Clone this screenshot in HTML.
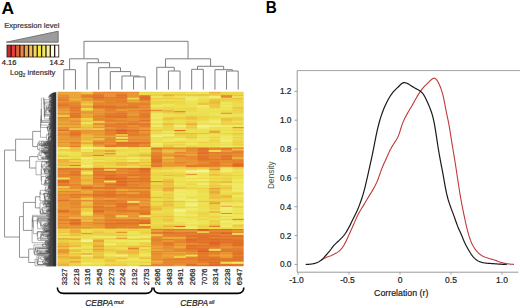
<!DOCTYPE html>
<html><head><meta charset="utf-8"><style>
html,body{margin:0;padding:0;background:#fff;}
svg{display:block;font-family:"Liberation Sans", sans-serif;}
</style></head><body>
<svg width="520" height="308" viewBox="0 0 520 308">
<rect width="520" height="308" fill="#fff"/>
<text x="1.6" y="14.3" font-size="17.4" font-weight="bold" fill="#000">A</text>
<text transform="translate(265.7,13.0) scale(0.9,1)" font-size="17" font-weight="bold" fill="#000">B</text>
<text x="4.2" y="27.5" font-size="7.6" fill="#333" stroke="#333" stroke-width="0.2">Expression level</text>
<polygon points="6.3,42.2 58.2,42.2 58.2,31.2" fill="#9c9c9c" stroke="#5e5e5e" stroke-width="0.8"/>
<rect x="6.6" y="44.7" width="52.6" height="12.7" fill="#2a1a10"/>
<rect x="7.45" y="45.5" width="3.05" height="11.1" fill="#c82830"/>
<rect x="11.80" y="45.5" width="3.05" height="11.1" fill="#e84040"/>
<rect x="16.15" y="45.5" width="3.05" height="11.1" fill="#e06438"/>
<rect x="20.50" y="45.5" width="3.05" height="11.1" fill="#ec8448"/>
<rect x="24.85" y="45.5" width="3.05" height="11.1" fill="#f0a850"/>
<rect x="29.20" y="45.5" width="3.05" height="11.1" fill="#f4c050"/>
<rect x="33.55" y="45.5" width="3.05" height="11.1" fill="#f4d860"/>
<rect x="37.90" y="45.5" width="3.05" height="11.1" fill="#f8e840"/>
<rect x="42.25" y="45.5" width="3.05" height="11.1" fill="#f0ec60"/>
<rect x="46.60" y="45.5" width="3.05" height="11.1" fill="#f4f0a0"/>
<rect x="50.95" y="45.5" width="3.05" height="11.1" fill="#fafae8"/>
<rect x="55.30" y="45.5" width="3.05" height="11.1" fill="#ffffff"/>
<text x="1.8" y="65.2" font-size="7.5" fill="#222" stroke="#222" stroke-width="0.2">4.16</text>
<text x="49.6" y="65.2" font-size="7.5" fill="#222" stroke="#222" stroke-width="0.2">14.2</text>
<text x="10.1" y="74.9" font-size="7.6" fill="#333" stroke="#333" stroke-width="0.2">Log<tspan font-size="4.6" dy="1.8">2</tspan><tspan dy="-1.8"> intensity</tspan></text>
<g><path fill="#d55122" d="M197.10,250.21h12.12v1.95h-12.12z"/><path fill="#d75723" d="M197.10,228.41h12.12v1.95h-12.12z"/><path fill="#d85a24" d="M115.72,129.59h12.12v1.95h-12.12z"/><path fill="#db5f25" d="M92.47,96.16h12.12v1.95h-12.12zM115.72,177.55h12.12v1.95h-12.12zM197.10,232.77h12.12v1.95h-12.12z"/><path fill="#dc6225" d="M138.97,96.16h12.12v1.95h-12.12zM220.35,112.15h12.12v1.95h-12.12zM115.72,132.49h12.12v1.95h-12.12zM138.97,168.83h12.12v1.95h-12.12zM104.10,177.55h12.12v1.95h-12.12zM57.60,180.45h12.12v1.95h-12.12zM208.72,241.49h12.12v1.95h-12.12zM197.10,258.93h12.12v1.95h-12.12z"/><path fill="#dd6526" d="M231.97,164.47h11.62v1.95h-11.62zM115.72,180.45h12.12v1.95h-12.12zM115.72,205.16h12.12v1.95h-12.12zM138.97,222.60h12.12v1.95h-12.12zM220.35,228.41h12.12v1.95h-12.12zM220.35,232.77h12.12v1.95h-12.12zM208.72,242.95h12.12v1.95h-12.12zM231.97,244.40h11.62v1.95h-11.62zM208.72,261.84h12.12v1.95h-12.12zM197.10,264.75h12.12v1.45h-12.12z"/><path fill="#de6826" d="M80.85,96.16h12.12v1.95h-12.12zM115.72,96.16h12.12v1.95h-12.12zM127.35,106.33h12.12v1.95h-12.12zM138.97,119.41h12.12v1.95h-12.12zM104.10,170.28h12.12v1.95h-12.12zM104.10,174.64h12.12v1.95h-12.12zM69.22,222.60h12.12v1.95h-12.12zM173.85,225.51h12.12v1.95h-12.12zM197.10,229.87h12.12v1.95h-12.12zM231.97,235.68h11.62v1.95h-11.62zM208.72,238.59h12.12v1.95h-12.12zM208.72,264.75h12.12v1.45h-12.12z"/><path fill="#df6a26" d="M115.72,112.15h12.12v1.95h-12.12zM104.10,115.05h12.12v1.95h-12.12zM115.72,141.21h12.12v1.95h-12.12zM150.60,147.03h12.12v1.95h-12.12zM197.10,152.84h12.12v1.95h-12.12zM92.47,154.29h12.12v1.95h-12.12zM220.35,155.75h12.12v1.95h-12.12zM231.97,163.01h11.62v1.95h-11.62zM138.97,167.37h12.12v1.95h-12.12zM80.85,186.27h12.12v1.95h-12.12zM138.97,219.69h12.12v1.95h-12.12zM185.47,238.59h12.12v1.95h-12.12zM185.47,247.31h12.12v1.95h-12.12zM208.72,250.21h12.12v1.95h-12.12zM231.97,253.12h11.62v1.95h-11.62z"/><path fill="#df6c27" d="M173.85,129.59h12.12v1.95h-12.12zM127.35,133.95h12.12v1.95h-12.12zM197.10,147.03h12.12v1.95h-12.12zM231.97,147.03h11.62v1.95h-11.62zM220.35,158.65h12.12v1.95h-12.12zM104.10,167.37h12.12v1.95h-12.12zM138.97,170.28h12.12v1.95h-12.12zM104.10,179.00h12.12v1.95h-12.12zM115.72,183.36h12.12v1.95h-12.12zM115.72,184.81h12.12v1.95h-12.12zM104.10,194.99h12.12v1.95h-12.12zM57.60,199.35h12.12v1.95h-12.12zM92.47,209.52h12.12v1.95h-12.12zM138.97,221.15h12.12v1.95h-12.12zM115.72,222.60h12.12v1.95h-12.12zM231.97,228.41h11.62v1.95h-11.62zM162.22,231.32h12.12v1.95h-12.12zM220.35,231.32h12.12v1.95h-12.12zM231.97,231.32h11.62v1.95h-11.62zM185.47,240.04h12.12v1.95h-12.12zM197.10,241.49h12.12v1.95h-12.12zM220.35,241.49h12.12v1.95h-12.12zM231.97,241.49h11.62v1.95h-11.62zM197.10,248.76h12.12v1.95h-12.12zM208.72,263.29h12.12v1.95h-12.12z"/><path fill="#e06f27" d="M138.97,94.71h12.12v1.95h-12.12zM92.47,104.88h12.12v1.95h-12.12zM92.47,106.33h12.12v1.95h-12.12zM127.35,129.59h12.12v1.95h-12.12zM115.72,131.04h12.12v1.95h-12.12zM127.35,142.67h12.12v1.95h-12.12zM104.10,145.57h12.12v1.95h-12.12zM92.47,167.37h12.12v1.95h-12.12zM138.97,173.19h12.12v1.95h-12.12zM138.97,177.55h12.12v1.95h-12.12zM115.72,181.91h12.12v1.95h-12.12zM104.10,183.36h12.12v1.95h-12.12zM92.47,194.99h12.12v1.95h-12.12zM104.10,226.96h12.12v1.95h-12.12zM208.72,228.41h12.12v1.95h-12.12zM220.35,235.68h12.12v1.95h-12.12zM115.72,237.13h12.12v1.95h-12.12zM197.10,238.59h12.12v1.95h-12.12zM220.35,238.59h12.12v1.95h-12.12zM231.97,240.04h11.62v1.95h-11.62zM231.97,242.95h11.62v1.95h-11.62zM185.47,244.40h12.12v1.95h-12.12zM220.35,250.21h12.12v1.95h-12.12zM231.97,256.03h11.62v1.95h-11.62zM208.72,258.93h12.12v1.95h-12.12zM220.35,258.93h12.12v1.95h-12.12zM231.97,258.93h11.62v1.95h-11.62zM185.47,263.29h12.12v1.95h-12.12zM185.47,264.75h12.12v1.45h-12.12z"/><path fill="#e17128" d="M104.10,104.88h12.12v1.95h-12.12zM104.10,106.33h12.12v1.95h-12.12zM115.72,106.33h12.12v1.95h-12.12zM69.22,109.24h12.12v1.95h-12.12zM138.97,109.24h12.12v1.95h-12.12zM69.22,112.15h12.12v1.95h-12.12zM115.72,115.05h12.12v1.95h-12.12zM115.72,116.51h12.12v1.95h-12.12zM115.72,123.77h12.12v1.95h-12.12zM138.97,123.77h12.12v1.95h-12.12zM231.97,126.68h11.62v1.95h-11.62zM127.35,141.21h12.12v1.95h-12.12zM197.10,148.48h12.12v1.95h-12.12zM150.60,158.65h12.12v1.95h-12.12zM197.10,158.65h12.12v1.95h-12.12zM69.22,173.19h12.12v1.95h-12.12zM127.35,174.64h12.12v1.95h-12.12zM127.35,180.45h12.12v1.95h-12.12zM104.10,187.72h12.12v1.95h-12.12zM57.60,209.52h12.12v1.95h-12.12zM57.60,210.97h12.12v1.95h-12.12zM92.47,210.97h12.12v1.95h-12.12zM231.97,218.24h11.62v1.95h-11.62zM69.22,219.69h12.12v1.95h-12.12zM173.85,228.41h12.12v1.95h-12.12zM197.10,235.68h12.12v1.95h-12.12zM208.72,235.68h12.12v1.95h-12.12zM197.10,237.13h12.12v1.95h-12.12zM208.72,240.04h12.12v1.95h-12.12zM208.72,244.40h12.12v1.95h-12.12zM197.10,247.31h12.12v1.95h-12.12zM231.97,250.21h11.62v1.95h-11.62zM208.72,257.48h12.12v1.95h-12.12z"/><path fill="#e17328" d="M92.47,94.71h12.12v1.95h-12.12zM115.72,94.71h12.12v1.95h-12.12zM127.35,96.16h12.12v1.95h-12.12zM220.35,96.16h12.12v1.95h-12.12zM138.97,97.61h12.12v1.95h-12.12zM57.60,99.07h12.12v1.95h-12.12zM138.97,99.07h12.12v1.95h-12.12zM57.60,104.88h12.12v1.95h-12.12zM173.85,110.69h12.12v1.95h-12.12zM69.22,115.05h12.12v1.95h-12.12zM138.97,115.05h12.12v1.95h-12.12zM127.35,123.77h12.12v1.95h-12.12zM104.10,125.23h12.12v1.95h-12.12zM57.60,129.59h12.12v1.95h-12.12zM69.22,133.95h12.12v1.95h-12.12zM115.72,138.31h12.12v1.95h-12.12zM115.72,142.67h12.12v1.95h-12.12zM220.35,147.03h12.12v1.95h-12.12zM197.10,151.39h12.12v1.95h-12.12zM150.60,155.75h12.12v1.95h-12.12zM197.10,155.75h12.12v1.95h-12.12zM197.10,157.20h12.12v1.95h-12.12zM150.60,160.11h12.12v1.95h-12.12zM92.47,173.19h12.12v1.95h-12.12zM92.47,177.55h12.12v1.95h-12.12zM127.35,177.55h12.12v1.95h-12.12zM57.60,179.00h12.12v1.95h-12.12zM57.60,181.91h12.12v1.95h-12.12zM92.47,186.27h12.12v1.95h-12.12zM127.35,186.27h12.12v1.95h-12.12zM80.85,187.72h12.12v1.95h-12.12zM92.47,193.53h12.12v1.95h-12.12zM104.10,193.53h12.12v1.95h-12.12zM127.35,194.99h12.12v1.95h-12.12zM127.35,199.35h12.12v1.95h-12.12zM115.72,202.25h12.12v1.95h-12.12zM115.72,203.71h12.12v1.95h-12.12zM220.35,205.16h12.12v1.95h-12.12zM138.97,212.43h12.12v1.95h-12.12zM104.10,222.60h12.12v1.95h-12.12zM127.35,222.60h12.12v1.95h-12.12zM127.35,226.96h12.12v1.95h-12.12zM150.60,228.41h12.12v1.95h-12.12zM185.47,228.41h12.12v1.95h-12.12zM185.47,231.32h12.12v1.95h-12.12zM185.47,234.23h12.12v1.95h-12.12zM197.10,234.23h12.12v1.95h-12.12zM208.72,234.23h12.12v1.95h-12.12zM185.47,235.68h12.12v1.95h-12.12zM185.47,245.85h12.12v1.95h-12.12zM208.72,247.31h12.12v1.95h-12.12zM220.35,248.76h12.12v1.95h-12.12zM197.10,253.12h12.12v1.95h-12.12zM197.10,256.03h12.12v1.95h-12.12zM220.35,263.29h12.12v1.95h-12.12zM220.35,264.75h12.12v1.45h-12.12z"/><path fill="#e27529" d="M104.10,96.16h12.12v1.95h-12.12zM69.22,106.33h12.12v1.95h-12.12zM104.10,119.41h12.12v1.95h-12.12zM104.10,123.77h12.12v1.95h-12.12zM104.10,129.59h12.12v1.95h-12.12zM69.22,132.49h12.12v1.95h-12.12zM138.97,141.21h12.12v1.95h-12.12zM115.72,144.12h12.12v1.95h-12.12zM208.72,147.03h12.12v1.95h-12.12zM208.72,158.65h12.12v1.95h-12.12zM150.60,161.56h12.12v1.95h-12.12zM69.22,164.47h12.12v1.95h-12.12zM115.72,173.19h12.12v1.95h-12.12zM104.10,176.09h12.12v1.95h-12.12zM138.97,180.45h12.12v1.95h-12.12zM104.10,186.27h12.12v1.95h-12.12zM104.10,190.63h12.12v1.95h-12.12zM69.22,193.53h12.12v1.95h-12.12zM104.10,199.35h12.12v1.95h-12.12zM92.47,202.25h12.12v1.95h-12.12zM127.35,203.71h12.12v1.95h-12.12zM92.47,206.61h12.12v1.95h-12.12zM115.72,209.52h12.12v1.95h-12.12zM69.22,218.24h12.12v1.95h-12.12zM115.72,219.69h12.12v1.95h-12.12zM69.22,221.15h12.12v1.95h-12.12zM162.22,228.41h12.12v1.95h-12.12zM208.72,231.32h12.12v1.95h-12.12zM162.22,232.77h12.12v1.95h-12.12zM173.85,232.77h12.12v1.95h-12.12zM231.97,238.59h11.62v1.95h-11.62zM197.10,240.04h12.12v1.95h-12.12zM220.35,240.04h12.12v1.95h-12.12zM185.47,241.49h12.12v1.95h-12.12zM231.97,257.48h11.62v1.95h-11.62zM231.97,264.75h11.62v1.45h-11.62z"/><path fill="#e37829" d="M115.72,93.25h12.12v1.95h-12.12zM69.22,104.88h12.12v1.95h-12.12zM127.35,104.88h12.12v1.95h-12.12zM150.60,109.24h12.12v1.95h-12.12zM138.97,112.15h12.12v1.95h-12.12zM69.22,116.51h12.12v1.95h-12.12zM104.10,116.51h12.12v1.95h-12.12zM92.47,119.41h12.12v1.95h-12.12zM127.35,122.32h12.12v1.95h-12.12zM138.97,133.95h12.12v1.95h-12.12zM92.47,141.21h12.12v1.95h-12.12zM162.22,147.03h12.12v1.95h-12.12zM185.47,147.03h12.12v1.95h-12.12zM104.10,149.93h12.12v1.95h-12.12zM231.97,151.39h11.62v1.95h-11.62zM173.85,155.75h12.12v1.95h-12.12zM150.60,157.20h12.12v1.95h-12.12zM220.35,157.20h12.12v1.95h-12.12zM208.72,161.56h12.12v1.95h-12.12zM185.47,164.47h12.12v1.95h-12.12zM115.72,167.37h12.12v1.95h-12.12zM127.35,167.37h12.12v1.95h-12.12zM127.35,168.83h12.12v1.95h-12.12zM69.22,171.73h12.12v1.95h-12.12zM138.97,171.73h12.12v1.95h-12.12zM104.10,173.19h12.12v1.95h-12.12zM127.35,173.19h12.12v1.95h-12.12zM92.47,174.64h12.12v1.95h-12.12zM115.72,179.00h12.12v1.95h-12.12zM138.97,179.00h12.12v1.95h-12.12zM127.35,183.36h12.12v1.95h-12.12zM115.72,186.27h12.12v1.95h-12.12zM92.47,190.63h12.12v1.95h-12.12zM104.10,192.08h12.12v1.95h-12.12zM115.72,193.53h12.12v1.95h-12.12zM104.10,206.61h12.12v1.95h-12.12zM115.72,206.61h12.12v1.95h-12.12zM127.35,209.52h12.12v1.95h-12.12zM138.97,210.97h12.12v1.95h-12.12zM127.35,219.69h12.12v1.95h-12.12zM69.22,224.05h12.12v1.95h-12.12zM208.72,232.77h12.12v1.95h-12.12zM208.72,237.13h12.12v1.95h-12.12zM197.10,244.40h12.12v1.95h-12.12zM197.10,245.85h12.12v1.95h-12.12zM127.35,247.31h12.12v1.95h-12.12zM231.97,251.67h11.62v1.95h-11.62zM208.72,256.03h12.12v1.95h-12.12zM162.22,258.93h12.12v1.95h-12.12zM197.10,261.84h12.12v1.95h-12.12zM231.97,263.29h11.62v1.95h-11.62z"/><path fill="#e37a2a" d="M80.85,94.71h12.12v1.95h-12.12zM57.60,103.43h12.12v1.95h-12.12zM115.72,104.88h12.12v1.95h-12.12zM69.22,107.79h12.12v1.95h-12.12zM104.10,107.79h12.12v1.95h-12.12zM104.10,112.15h12.12v1.95h-12.12zM92.47,115.05h12.12v1.95h-12.12zM138.97,125.23h12.12v1.95h-12.12zM115.72,128.13h12.12v1.95h-12.12zM69.22,131.04h12.12v1.95h-12.12zM127.35,131.04h12.12v1.95h-12.12zM138.97,142.67h12.12v1.95h-12.12zM127.35,144.12h12.12v1.95h-12.12zM69.22,145.57h12.12v1.95h-12.12zM127.35,145.57h12.12v1.95h-12.12zM173.85,147.03h12.12v1.95h-12.12zM197.10,149.93h12.12v1.95h-12.12zM208.72,151.39h12.12v1.95h-12.12zM208.72,163.01h12.12v1.95h-12.12zM150.60,164.47h12.12v1.95h-12.12zM197.10,164.47h12.12v1.95h-12.12zM185.47,165.92h12.12v1.95h-12.12zM231.97,165.92h11.62v1.95h-11.62zM57.60,167.37h12.12v1.95h-12.12zM69.22,167.37h12.12v1.95h-12.12zM57.60,168.83h12.12v1.95h-12.12zM69.22,170.28h12.12v1.95h-12.12zM92.47,170.28h12.12v1.95h-12.12zM92.47,171.73h12.12v1.95h-12.12zM69.22,174.64h12.12v1.95h-12.12zM138.97,174.64h12.12v1.95h-12.12zM57.60,184.81h12.12v1.95h-12.12zM104.10,184.81h12.12v1.95h-12.12zM138.97,186.27h12.12v1.95h-12.12zM115.72,194.99h12.12v1.95h-12.12zM92.47,205.16h12.12v1.95h-12.12zM104.10,219.69h12.12v1.95h-12.12zM127.35,221.15h12.12v1.95h-12.12zM104.10,224.05h12.12v1.95h-12.12zM208.72,225.51h12.12v1.95h-12.12zM80.85,226.96h12.12v1.95h-12.12zM138.97,226.96h12.12v1.95h-12.12zM150.60,231.32h12.12v1.95h-12.12zM173.85,234.23h12.12v1.95h-12.12zM231.97,234.23h11.62v1.95h-11.62zM185.47,237.13h12.12v1.95h-12.12zM220.35,237.13h12.12v1.95h-12.12zM162.22,241.49h12.12v1.95h-12.12zM162.22,242.95h12.12v1.95h-12.12zM162.22,244.40h12.12v1.95h-12.12zM208.72,245.85h12.12v1.95h-12.12zM231.97,248.76h11.62v1.95h-11.62zM185.47,253.12h12.12v1.95h-12.12zM185.47,257.48h12.12v1.95h-12.12zM173.85,258.93h12.12v1.95h-12.12zM208.72,260.39h12.12v1.95h-12.12zM173.85,261.84h12.12v1.95h-12.12z"/><path fill="#e47c2a" d="M92.47,93.25h12.12v1.95h-12.12zM92.47,97.61h12.12v1.95h-12.12zM92.47,99.07h12.12v1.95h-12.12zM115.72,100.52h12.12v1.95h-12.12zM104.10,101.97h12.12v1.95h-12.12zM104.10,109.24h12.12v1.95h-12.12zM69.22,113.60h12.12v1.95h-12.12zM115.72,113.60h12.12v1.95h-12.12zM138.97,113.60h12.12v1.95h-12.12zM138.97,116.51h12.12v1.95h-12.12zM115.72,119.41h12.12v1.95h-12.12zM115.72,125.23h12.12v1.95h-12.12zM138.97,129.59h12.12v1.95h-12.12zM208.72,131.04h12.12v1.95h-12.12zM104.10,133.95h12.12v1.95h-12.12zM69.22,141.21h12.12v1.95h-12.12zM104.10,144.12h12.12v1.95h-12.12zM220.35,148.48h12.12v1.95h-12.12zM220.35,151.39h12.12v1.95h-12.12zM197.10,154.29h12.12v1.95h-12.12zM220.35,154.29h12.12v1.95h-12.12zM185.47,155.75h12.12v1.95h-12.12zM197.10,160.11h12.12v1.95h-12.12zM208.72,164.47h12.12v1.95h-12.12zM150.60,165.92h12.12v1.95h-12.12zM92.47,168.83h12.12v1.95h-12.12zM104.10,171.73h12.12v1.95h-12.12zM127.35,171.73h12.12v1.95h-12.12zM115.72,174.64h12.12v1.95h-12.12zM115.72,176.09h12.12v1.95h-12.12zM57.60,183.36h12.12v1.95h-12.12zM92.47,187.72h12.12v1.95h-12.12zM138.97,187.72h12.12v1.95h-12.12zM127.35,190.63h12.12v1.95h-12.12zM80.85,193.53h12.12v1.95h-12.12zM138.97,193.53h12.12v1.95h-12.12zM138.97,194.99h12.12v1.95h-12.12zM69.22,196.44h12.12v1.95h-12.12zM138.97,196.44h12.12v1.95h-12.12zM104.10,200.80h12.12v1.95h-12.12zM69.22,202.25h12.12v1.95h-12.12zM138.97,206.61h12.12v1.95h-12.12zM115.72,210.97h12.12v1.95h-12.12zM127.35,210.97h12.12v1.95h-12.12zM138.97,213.88h12.12v1.95h-12.12zM127.35,218.24h12.12v1.95h-12.12zM115.72,221.15h12.12v1.95h-12.12zM115.72,224.05h12.12v1.95h-12.12zM127.35,224.05h12.12v1.95h-12.12zM115.72,231.32h12.12v1.95h-12.12zM173.85,231.32h12.12v1.95h-12.12zM185.47,232.77h12.12v1.95h-12.12zM162.22,234.23h12.12v1.95h-12.12zM231.97,237.13h11.62v1.95h-11.62zM162.22,238.59h12.12v1.95h-12.12zM185.47,248.76h12.12v1.95h-12.12zM173.85,250.21h12.12v1.95h-12.12zM185.47,250.21h12.12v1.95h-12.12zM197.10,251.67h12.12v1.95h-12.12zM197.10,257.48h12.12v1.95h-12.12zM220.35,257.48h12.12v1.95h-12.12zM220.35,260.39h12.12v1.95h-12.12zM231.97,260.39h11.62v1.95h-11.62zM150.60,264.75h12.12v1.45h-12.12z"/><path fill="#e5802b" d="M57.60,96.16h12.12v1.95h-12.12zM115.72,97.61h12.12v1.95h-12.12zM80.85,99.07h12.12v1.95h-12.12zM104.10,99.07h12.12v1.95h-12.12zM115.72,99.07h12.12v1.95h-12.12zM115.72,101.97h12.12v1.95h-12.12zM127.35,101.97h12.12v1.95h-12.12zM138.97,103.43h12.12v1.95h-12.12zM57.60,106.33h12.12v1.95h-12.12zM138.97,106.33h12.12v1.95h-12.12zM115.72,107.79h12.12v1.95h-12.12zM115.72,110.69h12.12v1.95h-12.12zM104.10,113.60h12.12v1.95h-12.12zM127.35,120.87h12.12v1.95h-12.12zM115.72,122.32h12.12v1.95h-12.12zM138.97,122.32h12.12v1.95h-12.12zM115.72,126.68h12.12v1.95h-12.12zM127.35,126.68h12.12v1.95h-12.12zM104.10,128.13h12.12v1.95h-12.12zM104.10,141.21h12.12v1.95h-12.12zM115.72,145.57h12.12v1.95h-12.12zM231.97,149.93h11.62v1.95h-11.62zM104.10,152.84h12.12v1.95h-12.12zM208.72,152.84h12.12v1.95h-12.12zM220.35,152.84h12.12v1.95h-12.12zM208.72,157.20h12.12v1.95h-12.12zM231.97,158.65h11.62v1.95h-11.62zM173.85,161.56h12.12v1.95h-12.12zM231.97,161.56h11.62v1.95h-11.62zM197.10,165.92h12.12v1.95h-12.12zM69.22,168.83h12.12v1.95h-12.12zM115.72,170.28h12.12v1.95h-12.12zM127.35,170.28h12.12v1.95h-12.12zM57.60,173.19h12.12v1.95h-12.12zM185.47,173.19h12.12v1.95h-12.12zM57.60,176.09h12.12v1.95h-12.12zM138.97,176.09h12.12v1.95h-12.12zM104.10,181.91h12.12v1.95h-12.12zM69.22,183.36h12.12v1.95h-12.12zM127.35,187.72h12.12v1.95h-12.12zM138.97,190.63h12.12v1.95h-12.12zM92.47,192.08h12.12v1.95h-12.12zM104.10,196.44h12.12v1.95h-12.12zM92.47,199.35h12.12v1.95h-12.12zM115.72,199.35h12.12v1.95h-12.12zM104.10,202.25h12.12v1.95h-12.12zM127.35,202.25h12.12v1.95h-12.12zM138.97,205.16h12.12v1.95h-12.12zM92.47,208.07h12.12v1.95h-12.12zM115.72,208.07h12.12v1.95h-12.12zM104.10,209.52h12.12v1.95h-12.12zM138.97,209.52h12.12v1.95h-12.12zM57.60,218.24h12.12v1.95h-12.12zM104.10,218.24h12.12v1.95h-12.12zM57.60,219.69h12.12v1.95h-12.12zM57.60,222.60h12.12v1.95h-12.12zM92.47,222.60h12.12v1.95h-12.12zM104.10,225.51h12.12v1.95h-12.12zM138.97,225.51h12.12v1.95h-12.12zM115.72,226.96h12.12v1.95h-12.12zM150.60,232.77h12.12v1.95h-12.12zM220.35,234.23h12.12v1.95h-12.12zM150.60,238.59h12.12v1.95h-12.12zM150.60,240.04h12.12v1.95h-12.12zM197.10,242.95h12.12v1.95h-12.12zM220.35,244.40h12.12v1.95h-12.12zM231.97,247.31h11.62v1.95h-11.62zM173.85,248.76h12.12v1.95h-12.12zM150.60,250.21h12.12v1.95h-12.12zM208.72,251.67h12.12v1.95h-12.12zM150.60,253.12h12.12v1.95h-12.12zM208.72,253.12h12.12v1.95h-12.12zM197.10,254.57h12.12v1.95h-12.12zM231.97,254.57h11.62v1.95h-11.62zM185.47,258.93h12.12v1.95h-12.12zM197.10,260.39h12.12v1.95h-12.12zM162.22,261.84h12.12v1.95h-12.12z"/><path fill="#e5832c" d="M104.10,91.80h12.12v1.95h-12.12zM220.35,94.71h12.12v1.95h-12.12zM104.10,97.61h12.12v1.95h-12.12zM57.60,101.97h12.12v1.95h-12.12zM69.22,101.97h12.12v1.95h-12.12zM92.47,101.97h12.12v1.95h-12.12zM138.97,101.97h12.12v1.95h-12.12zM127.35,103.43h12.12v1.95h-12.12zM138.97,110.69h12.12v1.95h-12.12zM127.35,112.15h12.12v1.95h-12.12zM127.35,115.05h12.12v1.95h-12.12zM57.60,116.51h12.12v1.95h-12.12zM57.60,126.68h12.12v1.95h-12.12zM69.22,129.59h12.12v1.95h-12.12zM104.10,131.04h12.12v1.95h-12.12zM104.10,132.49h12.12v1.95h-12.12zM127.35,132.49h12.12v1.95h-12.12zM115.72,135.40h12.12v1.95h-12.12zM104.10,136.85h12.12v1.95h-12.12zM127.35,138.31h12.12v1.95h-12.12zM92.47,142.67h12.12v1.95h-12.12zM138.97,145.57h12.12v1.95h-12.12zM150.60,148.48h12.12v1.95h-12.12zM173.85,151.39h12.12v1.95h-12.12zM150.60,152.84h12.12v1.95h-12.12zM150.60,154.29h12.12v1.95h-12.12zM208.72,154.29h12.12v1.95h-12.12zM208.72,155.75h12.12v1.95h-12.12zM208.72,160.11h12.12v1.95h-12.12zM231.97,160.11h11.62v1.95h-11.62zM150.60,163.01h12.12v1.95h-12.12zM197.10,163.01h12.12v1.95h-12.12zM208.72,165.92h12.12v1.95h-12.12zM57.60,170.28h12.12v1.95h-12.12zM57.60,174.64h12.12v1.95h-12.12zM127.35,179.00h12.12v1.95h-12.12zM92.47,181.91h12.12v1.95h-12.12zM80.85,184.81h12.12v1.95h-12.12zM127.35,184.81h12.12v1.95h-12.12zM115.72,187.72h12.12v1.95h-12.12zM115.72,190.63h12.12v1.95h-12.12zM138.97,192.08h12.12v1.95h-12.12zM127.35,193.53h12.12v1.95h-12.12zM69.22,194.99h12.12v1.95h-12.12zM127.35,196.44h12.12v1.95h-12.12zM80.85,199.35h12.12v1.95h-12.12zM92.47,200.80h12.12v1.95h-12.12zM115.72,200.80h12.12v1.95h-12.12zM104.10,203.71h12.12v1.95h-12.12zM127.35,205.16h12.12v1.95h-12.12zM104.10,208.07h12.12v1.95h-12.12zM69.22,210.97h12.12v1.95h-12.12zM104.10,213.88h12.12v1.95h-12.12zM104.10,215.33h12.12v1.95h-12.12zM115.72,218.24h12.12v1.95h-12.12zM104.10,221.15h12.12v1.95h-12.12zM115.72,225.51h12.12v1.95h-12.12zM69.22,226.96h12.12v1.95h-12.12zM208.72,229.87h12.12v1.95h-12.12zM220.35,229.87h12.12v1.95h-12.12zM80.85,232.77h12.12v1.95h-12.12zM150.60,235.68h12.12v1.95h-12.12zM173.85,241.49h12.12v1.95h-12.12zM220.35,242.95h12.12v1.95h-12.12zM231.97,245.85h11.62v1.95h-11.62zM173.85,257.48h12.12v1.95h-12.12zM185.47,261.84h12.12v1.95h-12.12zM162.22,263.29h12.12v1.95h-12.12zM138.97,264.75h12.12v1.45h-12.12z"/><path fill="#e6872d" d="M92.47,91.80h12.12v1.95h-12.12zM115.72,91.80h12.12v1.95h-12.12zM104.10,100.52h12.12v1.95h-12.12zM92.47,103.43h12.12v1.95h-12.12zM92.47,107.79h12.12v1.95h-12.12zM127.35,109.24h12.12v1.95h-12.12zM69.22,110.69h12.12v1.95h-12.12zM57.60,112.15h12.12v1.95h-12.12zM92.47,112.15h12.12v1.95h-12.12zM92.47,116.51h12.12v1.95h-12.12zM127.35,116.51h12.12v1.95h-12.12zM92.47,117.96h12.12v1.95h-12.12zM104.10,117.96h12.12v1.95h-12.12zM69.22,120.87h12.12v1.95h-12.12zM104.10,120.87h12.12v1.95h-12.12zM57.60,133.95h12.12v1.95h-12.12zM104.10,138.31h12.12v1.95h-12.12zM150.60,151.39h12.12v1.95h-12.12zM231.97,152.84h11.62v1.95h-11.62zM185.47,157.20h12.12v1.95h-12.12zM220.35,161.56h12.12v1.95h-12.12zM220.35,164.47h12.12v1.95h-12.12zM115.72,168.83h12.12v1.95h-12.12zM92.47,176.09h12.12v1.95h-12.12zM69.22,177.55h12.12v1.95h-12.12zM92.47,179.00h12.12v1.95h-12.12zM92.47,180.45h12.12v1.95h-12.12zM150.60,180.45h12.12v1.95h-12.12zM127.35,181.91h12.12v1.95h-12.12zM138.97,181.91h12.12v1.95h-12.12zM138.97,183.36h12.12v1.95h-12.12zM69.22,184.81h12.12v1.95h-12.12zM57.60,190.63h12.12v1.95h-12.12zM69.22,190.63h12.12v1.95h-12.12zM57.60,193.53h12.12v1.95h-12.12zM80.85,194.99h12.12v1.95h-12.12zM92.47,196.44h12.12v1.95h-12.12zM115.72,196.44h12.12v1.95h-12.12zM57.60,197.89h12.12v1.95h-12.12zM69.22,199.35h12.12v1.95h-12.12zM138.97,199.35h12.12v1.95h-12.12zM69.22,200.80h12.12v1.95h-12.12zM92.47,203.71h12.12v1.95h-12.12zM138.97,208.07h12.12v1.95h-12.12zM220.35,212.43h12.12v1.95h-12.12zM115.72,213.88h12.12v1.95h-12.12zM80.85,221.15h12.12v1.95h-12.12zM57.60,226.96h12.12v1.95h-12.12zM162.22,235.68h12.12v1.95h-12.12zM173.85,235.68h12.12v1.95h-12.12zM150.60,237.13h12.12v1.95h-12.12zM173.85,238.59h12.12v1.95h-12.12zM92.47,240.04h12.12v1.95h-12.12zM173.85,240.04h12.12v1.95h-12.12zM150.60,242.95h12.12v1.95h-12.12zM220.35,247.31h12.12v1.95h-12.12zM162.22,250.21h12.12v1.95h-12.12zM185.47,256.03h12.12v1.95h-12.12zM150.60,258.93h12.12v1.95h-12.12zM150.60,263.29h12.12v1.95h-12.12zM162.22,264.75h12.12v1.45h-12.12z"/><path fill="#e78a2e" d="M57.60,94.71h12.12v1.95h-12.12zM69.22,96.16h12.12v1.95h-12.12zM57.60,97.61h12.12v1.95h-12.12zM69.22,103.43h12.12v1.95h-12.12zM104.10,103.43h12.12v1.95h-12.12zM138.97,104.88h12.12v1.95h-12.12zM104.10,110.69h12.12v1.95h-12.12zM80.85,112.15h12.12v1.95h-12.12zM138.97,117.96h12.12v1.95h-12.12zM115.72,120.87h12.12v1.95h-12.12zM138.97,120.87h12.12v1.95h-12.12zM92.47,123.77h12.12v1.95h-12.12zM57.60,128.13h12.12v1.95h-12.12zM127.35,128.13h12.12v1.95h-12.12zM69.22,135.40h12.12v1.95h-12.12zM92.47,136.85h12.12v1.95h-12.12zM57.60,138.31h12.12v1.95h-12.12zM138.97,138.31h12.12v1.95h-12.12zM104.10,139.76h12.12v1.95h-12.12zM57.60,141.21h12.12v1.95h-12.12zM69.22,142.67h12.12v1.95h-12.12zM208.72,148.48h12.12v1.95h-12.12zM162.22,154.29h12.12v1.95h-12.12zM173.85,154.29h12.12v1.95h-12.12zM231.97,154.29h11.62v1.95h-11.62zM220.35,160.11h12.12v1.95h-12.12zM80.85,168.83h12.12v1.95h-12.12zM208.72,168.83h12.12v1.95h-12.12zM57.60,171.73h12.12v1.95h-12.12zM138.97,184.81h12.12v1.95h-12.12zM69.22,186.27h12.12v1.95h-12.12zM57.60,194.99h12.12v1.95h-12.12zM57.60,200.80h12.12v1.95h-12.12zM69.22,206.61h12.12v1.95h-12.12zM92.47,212.43h12.12v1.95h-12.12zM57.60,215.33h12.12v1.95h-12.12zM104.10,216.79h12.12v1.95h-12.12zM138.97,218.24h12.12v1.95h-12.12zM127.35,225.51h12.12v1.95h-12.12zM162.22,229.87h12.12v1.95h-12.12zM185.47,242.95h12.12v1.95h-12.12zM150.60,247.31h12.12v1.95h-12.12zM80.85,253.12h12.12v1.95h-12.12zM173.85,253.12h12.12v1.95h-12.12zM185.47,260.39h12.12v1.95h-12.12zM173.85,263.29h12.12v1.95h-12.12z"/><path fill="#e78e30" d="M127.35,91.80h12.12v1.95h-12.12zM115.72,103.43h12.12v1.95h-12.12zM127.35,107.79h12.12v1.95h-12.12zM127.35,110.69h12.12v1.95h-12.12zM115.72,117.96h12.12v1.95h-12.12zM127.35,119.41h12.12v1.95h-12.12zM104.10,122.32h12.12v1.95h-12.12zM69.22,123.77h12.12v1.95h-12.12zM92.47,126.68h12.12v1.95h-12.12zM92.47,129.59h12.12v1.95h-12.12zM57.60,132.49h12.12v1.95h-12.12zM138.97,132.49h12.12v1.95h-12.12zM69.22,136.85h12.12v1.95h-12.12zM138.97,139.76h12.12v1.95h-12.12zM138.97,144.12h12.12v1.95h-12.12zM185.47,148.48h12.12v1.95h-12.12zM185.47,149.93h12.12v1.95h-12.12zM185.47,152.84h12.12v1.95h-12.12zM231.97,155.75h11.62v1.95h-11.62zM185.47,158.65h12.12v1.95h-12.12zM197.10,161.56h12.12v1.95h-12.12zM115.72,171.73h12.12v1.95h-12.12zM69.22,176.09h12.12v1.95h-12.12zM69.22,179.00h12.12v1.95h-12.12zM69.22,180.45h12.12v1.95h-12.12zM92.47,183.36h12.12v1.95h-12.12zM57.60,187.72h12.12v1.95h-12.12zM69.22,187.72h12.12v1.95h-12.12zM208.72,187.72h12.12v1.95h-12.12zM104.10,189.17h12.12v1.95h-12.12zM115.72,197.89h12.12v1.95h-12.12zM127.35,197.89h12.12v1.95h-12.12zM208.72,202.25h12.12v1.95h-12.12zM69.22,203.71h12.12v1.95h-12.12zM69.22,205.16h12.12v1.95h-12.12zM69.22,209.52h12.12v1.95h-12.12zM104.10,210.97h12.12v1.95h-12.12zM69.22,212.43h12.12v1.95h-12.12zM104.10,212.43h12.12v1.95h-12.12zM69.22,213.88h12.12v1.95h-12.12zM92.47,213.88h12.12v1.95h-12.12zM127.35,215.33h12.12v1.95h-12.12zM92.47,218.24h12.12v1.95h-12.12zM92.47,221.15h12.12v1.95h-12.12zM150.60,241.49h12.12v1.95h-12.12zM173.85,244.40h12.12v1.95h-12.12zM162.22,245.85h12.12v1.95h-12.12zM220.35,245.85h12.12v1.95h-12.12zM162.22,247.31h12.12v1.95h-12.12zM162.22,257.48h12.12v1.95h-12.12zM162.22,260.39h12.12v1.95h-12.12zM173.85,260.39h12.12v1.95h-12.12zM197.10,263.29h12.12v1.95h-12.12z"/><path fill="#e89231" d="M104.10,93.25h12.12v1.95h-12.12zM104.10,94.71h12.12v1.95h-12.12zM127.35,99.07h12.12v1.95h-12.12zM57.60,100.52h12.12v1.95h-12.12zM57.60,107.79h12.12v1.95h-12.12zM138.97,107.79h12.12v1.95h-12.12zM80.85,110.69h12.12v1.95h-12.12zM127.35,117.96h12.12v1.95h-12.12zM92.47,122.32h12.12v1.95h-12.12zM127.35,125.23h12.12v1.95h-12.12zM104.10,126.68h12.12v1.95h-12.12zM138.97,126.68h12.12v1.95h-12.12zM80.85,129.59h12.12v1.95h-12.12zM127.35,135.40h12.12v1.95h-12.12zM127.35,136.85h12.12v1.95h-12.12zM138.97,136.85h12.12v1.95h-12.12zM69.22,138.31h12.12v1.95h-12.12zM92.47,139.76h12.12v1.95h-12.12zM127.35,139.76h12.12v1.95h-12.12zM104.10,142.67h12.12v1.95h-12.12zM92.47,144.12h12.12v1.95h-12.12zM173.85,157.20h12.12v1.95h-12.12zM162.22,158.65h12.12v1.95h-12.12zM173.85,158.65h12.12v1.95h-12.12zM185.47,161.56h12.12v1.95h-12.12zM173.85,163.01h12.12v1.95h-12.12zM220.35,163.01h12.12v1.95h-12.12zM127.35,176.09h12.12v1.95h-12.12zM69.22,181.91h12.12v1.95h-12.12zM115.72,192.08h12.12v1.95h-12.12zM57.60,196.44h12.12v1.95h-12.12zM92.47,197.89h12.12v1.95h-12.12zM138.97,197.89h12.12v1.95h-12.12zM57.60,202.25h12.12v1.95h-12.12zM57.60,203.71h12.12v1.95h-12.12zM57.60,205.16h12.12v1.95h-12.12zM104.10,205.16h12.12v1.95h-12.12zM57.60,208.07h12.12v1.95h-12.12zM127.35,208.07h12.12v1.95h-12.12zM208.72,210.97h12.12v1.95h-12.12zM57.60,212.43h12.12v1.95h-12.12zM115.72,212.43h12.12v1.95h-12.12zM69.22,215.33h12.12v1.95h-12.12zM57.60,216.79h12.12v1.95h-12.12zM92.47,219.69h12.12v1.95h-12.12zM57.60,221.15h12.12v1.95h-12.12zM80.85,224.05h12.12v1.95h-12.12zM57.60,225.51h12.12v1.95h-12.12zM92.47,226.96h12.12v1.95h-12.12zM173.85,229.87h12.12v1.95h-12.12zM185.47,229.87h12.12v1.95h-12.12zM173.85,247.31h12.12v1.95h-12.12zM162.22,248.76h12.12v1.95h-12.12zM220.35,251.67h12.12v1.95h-12.12zM162.22,253.12h12.12v1.95h-12.12zM220.35,253.12h12.12v1.95h-12.12z"/><path fill="#e99532" d="M80.85,93.25h12.12v1.95h-12.12zM127.35,93.25h12.12v1.95h-12.12zM69.22,100.52h12.12v1.95h-12.12zM138.97,100.52h12.12v1.95h-12.12zM57.60,109.24h12.12v1.95h-12.12zM92.47,110.69h12.12v1.95h-12.12zM92.47,113.60h12.12v1.95h-12.12zM57.60,123.77h12.12v1.95h-12.12zM69.22,126.68h12.12v1.95h-12.12zM138.97,131.04h12.12v1.95h-12.12zM92.47,133.95h12.12v1.95h-12.12zM138.97,135.40h12.12v1.95h-12.12zM69.22,144.12h12.12v1.95h-12.12zM173.85,152.84h12.12v1.95h-12.12zM185.47,160.11h12.12v1.95h-12.12zM162.22,164.47h12.12v1.95h-12.12zM173.85,164.47h12.12v1.95h-12.12zM220.35,165.92h12.12v1.95h-12.12zM92.47,189.17h12.12v1.95h-12.12zM69.22,192.08h12.12v1.95h-12.12zM138.97,202.25h12.12v1.95h-12.12zM127.35,206.61h12.12v1.95h-12.12zM57.60,213.88h12.12v1.95h-12.12zM127.35,213.88h12.12v1.95h-12.12zM92.47,215.33h12.12v1.95h-12.12zM57.60,224.05h12.12v1.95h-12.12zM92.47,224.05h12.12v1.95h-12.12zM231.97,229.87h11.62v1.95h-11.62zM150.60,244.40h12.12v1.95h-12.12zM57.60,248.76h12.12v1.95h-12.12zM57.60,250.21h12.12v1.95h-12.12zM150.60,251.67h12.12v1.95h-12.12zM150.60,254.57h12.12v1.95h-12.12zM150.60,256.03h12.12v1.95h-12.12zM150.60,257.48h12.12v1.95h-12.12z"/><path fill="#e99933" d="M127.35,94.71h12.12v1.95h-12.12zM92.47,100.52h12.12v1.95h-12.12zM80.85,106.33h12.12v1.95h-12.12zM92.47,109.24h12.12v1.95h-12.12zM115.72,109.24h12.12v1.95h-12.12zM57.60,117.96h12.12v1.95h-12.12zM57.60,119.41h12.12v1.95h-12.12zM69.22,119.41h12.12v1.95h-12.12zM138.97,128.13h12.12v1.95h-12.12zM80.85,131.04h12.12v1.95h-12.12zM92.47,131.04h12.12v1.95h-12.12zM80.85,132.49h12.12v1.95h-12.12zM57.60,136.85h12.12v1.95h-12.12zM185.47,151.39h12.12v1.95h-12.12zM162.22,152.84h12.12v1.95h-12.12zM173.85,160.11h12.12v1.95h-12.12zM162.22,161.56h12.12v1.95h-12.12zM162.22,163.01h12.12v1.95h-12.12zM185.47,163.01h12.12v1.95h-12.12zM92.47,184.81h12.12v1.95h-12.12zM80.85,189.17h12.12v1.95h-12.12zM127.35,189.17h12.12v1.95h-12.12zM138.97,189.17h12.12v1.95h-12.12zM57.60,192.08h12.12v1.95h-12.12zM138.97,200.80h12.12v1.95h-12.12zM138.97,203.71h12.12v1.95h-12.12zM57.60,206.61h12.12v1.95h-12.12zM69.22,208.07h12.12v1.95h-12.12zM127.35,212.43h12.12v1.95h-12.12zM138.97,216.79h12.12v1.95h-12.12zM69.22,225.51h12.12v1.95h-12.12zM162.22,240.04h12.12v1.95h-12.12zM173.85,242.95h12.12v1.95h-12.12zM57.60,245.85h12.12v1.95h-12.12zM92.47,248.76h12.12v1.95h-12.12zM57.60,251.67h12.12v1.95h-12.12zM185.47,251.67h12.12v1.95h-12.12zM208.72,254.57h12.12v1.95h-12.12zM220.35,256.03h12.12v1.95h-12.12z"/><path fill="#ea9d34" d="M57.60,93.25h12.12v1.95h-12.12zM57.60,113.60h12.12v1.95h-12.12zM57.60,122.32h12.12v1.95h-12.12zM69.22,122.32h12.12v1.95h-12.12zM57.60,131.04h12.12v1.95h-12.12zM92.47,132.49h12.12v1.95h-12.12zM57.60,135.40h12.12v1.95h-12.12zM69.22,139.76h12.12v1.95h-12.12zM57.60,145.57h12.12v1.95h-12.12zM150.60,149.93h12.12v1.95h-12.12zM220.35,149.93h12.12v1.95h-12.12zM80.85,167.37h12.12v1.95h-12.12zM162.22,187.72h12.12v1.95h-12.12zM127.35,192.08h12.12v1.95h-12.12zM69.22,197.89h12.12v1.95h-12.12zM104.10,197.89h12.12v1.95h-12.12zM115.72,216.79h12.12v1.95h-12.12zM80.85,222.60h12.12v1.95h-12.12zM92.47,225.51h12.12v1.95h-12.12zM150.60,229.87h12.12v1.95h-12.12zM150.60,245.85h12.12v1.95h-12.12zM162.22,256.03h12.12v1.95h-12.12zM150.60,261.84h12.12v1.95h-12.12z"/><path fill="#eaa135" d="M57.60,91.80h12.12v1.95h-12.12zM69.22,91.80h12.12v1.95h-12.12zM80.85,97.61h12.12v1.95h-12.12zM80.85,104.88h12.12v1.95h-12.12zM127.35,113.60h12.12v1.95h-12.12zM80.85,115.05h12.12v1.95h-12.12zM57.60,120.87h12.12v1.95h-12.12zM57.60,139.76h12.12v1.95h-12.12zM57.60,144.12h12.12v1.95h-12.12zM185.47,154.29h12.12v1.95h-12.12zM57.60,158.65h12.12v1.95h-12.12zM162.22,165.92h12.12v1.95h-12.12zM80.85,179.00h12.12v1.95h-12.12zM80.85,205.16h12.12v1.95h-12.12zM127.35,216.79h12.12v1.95h-12.12zM69.22,229.87h12.12v1.95h-12.12zM92.47,245.85h12.12v1.95h-12.12zM162.22,251.67h12.12v1.95h-12.12zM57.60,256.03h12.12v1.95h-12.12zM69.22,260.39h12.12v1.95h-12.12zM173.85,264.75h12.12v1.45h-12.12z"/><path fill="#eba536" d="M69.22,93.25h12.12v1.95h-12.12zM69.22,94.71h12.12v1.95h-12.12zM57.60,110.69h12.12v1.95h-12.12zM80.85,116.51h12.12v1.95h-12.12zM69.22,117.96h12.12v1.95h-12.12zM104.10,135.40h12.12v1.95h-12.12zM80.85,138.31h12.12v1.95h-12.12zM80.85,142.67h12.12v1.95h-12.12zM162.22,148.48h12.12v1.95h-12.12zM173.85,148.48h12.12v1.95h-12.12zM162.22,155.75h12.12v1.95h-12.12zM80.85,174.64h12.12v1.95h-12.12zM80.85,192.08h12.12v1.95h-12.12zM208.72,192.08h12.12v1.95h-12.12zM80.85,196.44h12.12v1.95h-12.12zM80.85,206.61h12.12v1.95h-12.12zM69.22,231.32h12.12v1.95h-12.12zM173.85,245.85h12.12v1.95h-12.12zM220.35,254.57h12.12v1.95h-12.12z"/><path fill="#eba937" d="M162.22,94.71h12.12v1.95h-12.12zM127.35,100.52h12.12v1.95h-12.12zM185.47,123.77h12.12v1.95h-12.12zM69.22,125.23h12.12v1.95h-12.12zM57.60,142.67h12.12v1.95h-12.12zM92.47,145.57h12.12v1.95h-12.12zM138.97,154.29h12.12v1.95h-12.12zM69.22,158.65h12.12v1.95h-12.12zM162.22,160.11h12.12v1.95h-12.12zM173.85,165.92h12.12v1.95h-12.12zM115.72,189.17h12.12v1.95h-12.12zM162.22,189.17h12.12v1.95h-12.12zM162.22,200.80h12.12v1.95h-12.12zM80.85,218.24h12.12v1.95h-12.12zM80.85,225.51h12.12v1.95h-12.12zM162.22,237.13h12.12v1.95h-12.12zM173.85,237.13h12.12v1.95h-12.12zM92.47,244.40h12.12v1.95h-12.12zM150.60,248.76h12.12v1.95h-12.12zM173.85,251.67h12.12v1.95h-12.12zM162.22,254.57h12.12v1.95h-12.12zM173.85,254.57h12.12v1.95h-12.12zM69.22,256.03h12.12v1.95h-12.12z"/><path fill="#ebad38" d="M69.22,99.07h12.12v1.95h-12.12zM80.85,113.60h12.12v1.95h-12.12zM57.60,125.23h12.12v1.95h-12.12zM92.47,135.40h12.12v1.95h-12.12zM231.97,157.20h11.62v1.95h-11.62zM69.22,161.56h12.12v1.95h-12.12zM80.85,183.36h12.12v1.95h-12.12zM69.22,189.17h12.12v1.95h-12.12zM208.72,190.63h12.12v1.95h-12.12zM220.35,194.99h12.12v1.95h-12.12zM80.85,200.80h12.12v1.95h-12.12zM80.85,215.33h12.12v1.95h-12.12zM92.47,216.79h12.12v1.95h-12.12zM57.60,237.13h12.12v1.95h-12.12zM69.22,238.59h12.12v1.95h-12.12zM138.97,245.85h12.12v1.95h-12.12zM127.35,248.76h12.12v1.95h-12.12zM57.60,253.12h12.12v1.95h-12.12zM92.47,256.03h12.12v1.95h-12.12zM69.22,257.48h12.12v1.95h-12.12z"/><path fill="#ecb03a" d="M69.22,97.61h12.12v1.95h-12.12zM92.47,125.23h12.12v1.95h-12.12zM80.85,133.95h12.12v1.95h-12.12zM57.60,164.47h12.12v1.95h-12.12zM208.72,167.37h12.12v1.95h-12.12zM162.22,180.45h12.12v1.95h-12.12zM57.60,189.17h12.12v1.95h-12.12zM80.85,190.63h12.12v1.95h-12.12zM208.72,200.80h12.12v1.95h-12.12zM150.60,208.07h12.12v1.95h-12.12zM69.22,234.23h12.12v1.95h-12.12zM57.60,263.29h12.12v1.95h-12.12z"/><path fill="#ecb43b" d="M208.72,101.97h12.12v1.95h-12.12zM162.22,117.96h12.12v1.95h-12.12zM80.85,126.68h12.12v1.95h-12.12zM80.85,136.85h12.12v1.95h-12.12zM92.47,149.93h12.12v1.95h-12.12zM173.85,149.93h12.12v1.95h-12.12zM57.60,160.11h12.12v1.95h-12.12zM57.60,161.56h12.12v1.95h-12.12zM127.35,161.56h12.12v1.95h-12.12zM162.22,174.64h12.12v1.95h-12.12zM150.60,196.44h12.12v1.95h-12.12zM69.22,216.79h12.12v1.95h-12.12zM80.85,216.79h12.12v1.95h-12.12zM162.22,225.51h12.12v1.95h-12.12zM57.60,242.95h12.12v1.95h-12.12zM69.22,245.85h12.12v1.95h-12.12zM92.47,250.21h12.12v1.95h-12.12zM127.35,251.67h12.12v1.95h-12.12zM150.60,260.39h12.12v1.95h-12.12zM57.60,264.75h12.12v1.45h-12.12z"/><path fill="#ecb83c" d="M208.72,91.80h12.12v1.95h-12.12zM80.85,100.52h12.12v1.95h-12.12zM80.85,101.97h12.12v1.95h-12.12zM162.22,109.24h12.12v1.95h-12.12zM162.22,110.69h12.12v1.95h-12.12zM220.35,117.96h12.12v1.95h-12.12zM173.85,132.49h12.12v1.95h-12.12zM185.47,132.49h12.12v1.95h-12.12zM80.85,141.21h12.12v1.95h-12.12zM162.22,151.39h12.12v1.95h-12.12zM162.22,157.20h12.12v1.95h-12.12zM115.72,161.56h12.12v1.95h-12.12zM138.97,164.47h12.12v1.95h-12.12zM80.85,180.45h12.12v1.95h-12.12zM162.22,181.91h12.12v1.95h-12.12zM162.22,186.27h12.12v1.95h-12.12zM150.60,200.80h12.12v1.95h-12.12zM173.85,200.80h12.12v1.95h-12.12zM80.85,203.71h12.12v1.95h-12.12zM115.72,234.23h12.12v1.95h-12.12zM57.60,238.59h12.12v1.95h-12.12zM57.60,244.40h12.12v1.95h-12.12zM69.22,248.76h12.12v1.95h-12.12zM115.72,250.21h12.12v1.95h-12.12z"/><path fill="#ecbc3d" d="M231.97,94.71h11.62v1.95h-11.62zM231.97,97.61h11.62v1.95h-11.62zM208.72,100.52h12.12v1.95h-12.12zM185.47,117.96h12.12v1.95h-12.12zM185.47,122.32h12.12v1.95h-12.12zM162.22,123.77h12.12v1.95h-12.12zM80.85,135.40h12.12v1.95h-12.12zM185.47,136.85h12.12v1.95h-12.12zM80.85,154.29h12.12v1.95h-12.12zM115.72,163.01h12.12v1.95h-12.12zM115.72,164.47h12.12v1.95h-12.12zM80.85,176.09h12.12v1.95h-12.12zM220.35,181.91h12.12v1.95h-12.12zM208.72,189.17h12.12v1.95h-12.12zM208.72,196.44h12.12v1.95h-12.12zM197.10,200.80h12.12v1.95h-12.12zM162.22,215.33h12.12v1.95h-12.12zM208.72,224.05h12.12v1.95h-12.12zM69.22,228.41h12.12v1.95h-12.12zM57.60,234.23h12.12v1.95h-12.12zM92.47,241.49h12.12v1.95h-12.12zM92.47,242.95h12.12v1.95h-12.12zM127.35,245.85h12.12v1.95h-12.12zM92.47,247.31h12.12v1.95h-12.12zM104.10,248.76h12.12v1.95h-12.12zM69.22,250.21h12.12v1.95h-12.12zM127.35,250.21h12.12v1.95h-12.12zM115.72,251.67h12.12v1.95h-12.12zM69.22,253.12h12.12v1.95h-12.12zM115.72,257.48h12.12v1.95h-12.12zM57.60,261.84h12.12v1.95h-12.12zM69.22,261.84h12.12v1.95h-12.12z"/><path fill="#edc03f" d="M208.72,93.25h12.12v1.95h-12.12zM185.47,94.71h12.12v1.95h-12.12zM208.72,99.07h12.12v1.95h-12.12zM185.47,116.51h12.12v1.95h-12.12zM220.35,119.41h12.12v1.95h-12.12zM80.85,128.13h12.12v1.95h-12.12zM150.60,129.59h12.12v1.95h-12.12zM197.10,132.49h12.12v1.95h-12.12zM115.72,133.95h12.12v1.95h-12.12zM92.47,138.31h12.12v1.95h-12.12zM231.97,148.48h11.62v1.95h-11.62zM69.22,149.93h12.12v1.95h-12.12zM162.22,149.93h12.12v1.95h-12.12zM138.97,161.56h12.12v1.95h-12.12zM57.60,163.01h12.12v1.95h-12.12zM127.35,163.01h12.12v1.95h-12.12zM150.60,167.37h12.12v1.95h-12.12zM208.72,173.19h12.12v1.95h-12.12zM80.85,177.55h12.12v1.95h-12.12zM162.22,179.00h12.12v1.95h-12.12zM220.35,180.45h12.12v1.95h-12.12zM80.85,181.91h12.12v1.95h-12.12zM162.22,183.36h12.12v1.95h-12.12zM162.22,184.81h12.12v1.95h-12.12zM220.35,196.44h12.12v1.95h-12.12zM80.85,202.25h12.12v1.95h-12.12zM162.22,203.71h12.12v1.95h-12.12zM150.60,205.16h12.12v1.95h-12.12zM162.22,205.16h12.12v1.95h-12.12zM162.22,218.24h12.12v1.95h-12.12zM80.85,219.69h12.12v1.95h-12.12zM57.60,231.32h12.12v1.95h-12.12zM69.22,237.13h12.12v1.95h-12.12zM92.47,238.59h12.12v1.95h-12.12zM69.22,244.40h12.12v1.95h-12.12zM115.72,245.85h12.12v1.95h-12.12zM57.60,247.31h12.12v1.95h-12.12zM138.97,248.76h12.12v1.95h-12.12zM127.35,253.12h12.12v1.95h-12.12zM57.60,257.48h12.12v1.95h-12.12zM138.97,257.48h12.12v1.95h-12.12zM104.10,258.93h12.12v1.95h-12.12z"/><path fill="#edc440" d="M80.85,91.80h12.12v1.95h-12.12zM162.22,93.25h12.12v1.95h-12.12zM197.10,94.71h12.12v1.95h-12.12zM197.10,101.97h12.12v1.95h-12.12zM197.10,103.43h12.12v1.95h-12.12zM231.97,106.33h11.62v1.95h-11.62zM80.85,109.24h12.12v1.95h-12.12zM80.85,120.87h12.12v1.95h-12.12zM162.22,122.32h12.12v1.95h-12.12zM80.85,123.77h12.12v1.95h-12.12zM185.47,126.68h12.12v1.95h-12.12zM231.97,132.49h11.62v1.95h-11.62zM173.85,141.21h12.12v1.95h-12.12zM173.85,144.12h12.12v1.95h-12.12zM231.97,144.12h11.62v1.95h-11.62zM69.22,147.03h12.12v1.95h-12.12zM69.22,148.48h12.12v1.95h-12.12zM92.47,151.39h12.12v1.95h-12.12zM127.35,154.29h12.12v1.95h-12.12zM57.60,155.75h12.12v1.95h-12.12zM115.72,155.75h12.12v1.95h-12.12zM92.47,161.56h12.12v1.95h-12.12zM208.72,174.64h12.12v1.95h-12.12zM150.60,184.81h12.12v1.95h-12.12zM208.72,184.81h12.12v1.95h-12.12zM173.85,187.72h12.12v1.95h-12.12zM220.35,187.72h12.12v1.95h-12.12zM208.72,193.53h12.12v1.95h-12.12zM208.72,194.99h12.12v1.95h-12.12zM208.72,197.89h12.12v1.95h-12.12zM220.35,200.80h12.12v1.95h-12.12zM150.60,206.61h12.12v1.95h-12.12zM150.60,215.33h12.12v1.95h-12.12zM162.22,224.05h12.12v1.95h-12.12zM231.97,224.05h11.62v1.95h-11.62zM92.47,231.32h12.12v1.95h-12.12zM69.22,232.77h12.12v1.95h-12.12zM104.10,234.23h12.12v1.95h-12.12zM150.60,234.23h12.12v1.95h-12.12zM57.60,241.49h12.12v1.95h-12.12zM92.47,253.12h12.12v1.95h-12.12zM57.60,254.57h12.12v1.95h-12.12zM92.47,257.48h12.12v1.95h-12.12zM104.10,264.75h12.12v1.45h-12.12zM115.72,264.75h12.12v1.45h-12.12z"/><path fill="#edc841" d="M197.10,93.25h12.12v1.95h-12.12zM162.22,97.61h12.12v1.95h-12.12zM220.35,99.07h12.12v1.95h-12.12zM208.72,103.43h12.12v1.95h-12.12zM208.72,104.88h12.12v1.95h-12.12zM208.72,106.33h12.12v1.95h-12.12zM173.85,112.15h12.12v1.95h-12.12zM57.60,115.05h12.12v1.95h-12.12zM173.85,116.51h12.12v1.95h-12.12zM80.85,125.23h12.12v1.95h-12.12zM69.22,128.13h12.12v1.95h-12.12zM231.97,136.85h11.62v1.95h-11.62zM80.85,139.76h12.12v1.95h-12.12zM197.10,141.21h12.12v1.95h-12.12zM231.97,141.21h11.62v1.95h-11.62zM80.85,151.39h12.12v1.95h-12.12zM138.97,152.84h12.12v1.95h-12.12zM104.10,154.29h12.12v1.95h-12.12zM80.85,155.75h12.12v1.95h-12.12zM138.97,155.75h12.12v1.95h-12.12zM115.72,158.65h12.12v1.95h-12.12zM138.97,158.65h12.12v1.95h-12.12zM69.22,163.01h12.12v1.95h-12.12zM185.47,167.37h12.12v1.95h-12.12zM197.10,167.37h12.12v1.95h-12.12zM208.72,180.45h12.12v1.95h-12.12zM208.72,181.91h12.12v1.95h-12.12zM150.60,186.27h12.12v1.95h-12.12zM197.10,187.72h12.12v1.95h-12.12zM162.22,190.63h12.12v1.95h-12.12zM162.22,193.53h12.12v1.95h-12.12zM162.22,196.44h12.12v1.95h-12.12zM162.22,202.25h12.12v1.95h-12.12zM208.72,208.07h12.12v1.95h-12.12zM162.22,219.69h12.12v1.95h-12.12zM150.60,226.96h12.12v1.95h-12.12zM57.60,228.41h12.12v1.95h-12.12zM127.35,238.59h12.12v1.95h-12.12zM80.85,248.76h12.12v1.95h-12.12zM104.10,250.21h12.12v1.95h-12.12zM115.72,253.12h12.12v1.95h-12.12zM57.60,258.93h12.12v1.95h-12.12zM104.10,260.39h12.12v1.95h-12.12zM104.10,263.29h12.12v1.95h-12.12z"/><path fill="#edcc43" d="M220.35,93.25h12.12v1.95h-12.12zM150.60,94.71h12.12v1.95h-12.12zM150.60,97.61h12.12v1.95h-12.12zM173.85,97.61h12.12v1.95h-12.12zM231.97,107.79h11.62v1.95h-11.62zM150.60,110.69h12.12v1.95h-12.12zM162.22,112.15h12.12v1.95h-12.12zM231.97,112.15h11.62v1.95h-11.62zM185.47,115.05h12.12v1.95h-12.12zM173.85,117.96h12.12v1.95h-12.12zM231.97,117.96h11.62v1.95h-11.62zM80.85,119.41h12.12v1.95h-12.12zM231.97,122.32h11.62v1.95h-11.62zM208.72,129.59h12.12v1.95h-12.12zM162.22,141.21h12.12v1.95h-12.12zM162.22,144.12h12.12v1.95h-12.12zM162.22,145.57h12.12v1.95h-12.12zM57.60,148.48h12.12v1.95h-12.12zM80.85,152.84h12.12v1.95h-12.12zM92.47,152.84h12.12v1.95h-12.12zM92.47,158.65h12.12v1.95h-12.12zM104.10,161.56h12.12v1.95h-12.12zM104.10,163.01h12.12v1.95h-12.12zM92.47,165.92h12.12v1.95h-12.12zM162.22,167.37h12.12v1.95h-12.12zM80.85,170.28h12.12v1.95h-12.12zM80.85,173.19h12.12v1.95h-12.12zM173.85,174.64h12.12v1.95h-12.12zM220.35,174.64h12.12v1.95h-12.12zM231.97,174.64h11.62v1.95h-11.62zM150.60,181.91h12.12v1.95h-12.12zM57.60,186.27h12.12v1.95h-12.12zM173.85,186.27h12.12v1.95h-12.12zM208.72,186.27h12.12v1.95h-12.12zM220.35,186.27h12.12v1.95h-12.12zM150.60,187.72h12.12v1.95h-12.12zM231.97,192.08h11.62v1.95h-11.62zM80.85,197.89h12.12v1.95h-12.12zM231.97,205.16h11.62v1.95h-11.62zM80.85,208.07h12.12v1.95h-12.12zM80.85,209.52h12.12v1.95h-12.12zM150.60,209.52h12.12v1.95h-12.12zM197.10,218.24h12.12v1.95h-12.12zM162.22,221.15h12.12v1.95h-12.12zM197.10,225.51h12.12v1.95h-12.12zM231.97,225.51h11.62v1.95h-11.62zM57.60,229.87h12.12v1.95h-12.12zM127.35,229.87h12.12v1.95h-12.12zM138.97,231.32h12.12v1.95h-12.12zM197.10,231.32h12.12v1.95h-12.12zM92.47,232.77h12.12v1.95h-12.12zM69.22,241.49h12.12v1.95h-12.12zM69.22,242.95h12.12v1.95h-12.12zM104.10,245.85h12.12v1.95h-12.12zM115.72,248.76h12.12v1.95h-12.12zM92.47,251.67h12.12v1.95h-12.12zM92.47,254.57h12.12v1.95h-12.12zM57.60,260.39h12.12v1.95h-12.12zM138.97,261.84h12.12v1.95h-12.12z"/><path fill="#edcf44" d="M173.85,93.25h12.12v1.95h-12.12zM173.85,94.71h12.12v1.95h-12.12zM150.60,101.97h12.12v1.95h-12.12zM162.22,101.97h12.12v1.95h-12.12zM80.85,103.43h12.12v1.95h-12.12zM231.97,109.24h11.62v1.95h-11.62zM162.22,116.51h12.12v1.95h-12.12zM231.97,116.51h11.62v1.95h-11.62zM231.97,119.41h11.62v1.95h-11.62zM92.47,128.13h12.12v1.95h-12.12zM162.22,128.13h12.12v1.95h-12.12zM231.97,129.59h11.62v1.95h-11.62zM173.85,133.95h12.12v1.95h-12.12zM185.47,133.95h12.12v1.95h-12.12zM208.72,139.76h12.12v1.95h-12.12zM80.85,144.12h12.12v1.95h-12.12zM92.47,148.48h12.12v1.95h-12.12zM57.60,154.29h12.12v1.95h-12.12zM104.10,155.75h12.12v1.95h-12.12zM92.47,164.47h12.12v1.95h-12.12zM127.35,164.47h12.12v1.95h-12.12zM173.85,167.37h12.12v1.95h-12.12zM231.97,167.37h11.62v1.95h-11.62zM150.60,168.83h12.12v1.95h-12.12zM150.60,173.19h12.12v1.95h-12.12zM173.85,173.19h12.12v1.95h-12.12zM208.72,177.55h12.12v1.95h-12.12zM220.35,177.55h12.12v1.95h-12.12zM220.35,184.81h12.12v1.95h-12.12zM150.60,189.17h12.12v1.95h-12.12zM162.22,197.89h12.12v1.95h-12.12zM220.35,197.89h12.12v1.95h-12.12zM208.72,203.71h12.12v1.95h-12.12zM208.72,205.16h12.12v1.95h-12.12zM162.22,216.79h12.12v1.95h-12.12zM220.35,218.24h12.12v1.95h-12.12zM208.72,219.69h12.12v1.95h-12.12zM208.72,221.15h12.12v1.95h-12.12zM173.85,224.05h12.12v1.95h-12.12zM162.22,226.96h12.12v1.95h-12.12zM92.47,229.87h12.12v1.95h-12.12zM104.10,232.77h12.12v1.95h-12.12zM92.47,234.23h12.12v1.95h-12.12zM80.85,237.13h12.12v1.95h-12.12zM138.97,237.13h12.12v1.95h-12.12zM138.97,238.59h12.12v1.95h-12.12zM57.60,240.04h12.12v1.95h-12.12zM138.97,242.95h12.12v1.95h-12.12zM104.10,256.03h12.12v1.95h-12.12zM138.97,256.03h12.12v1.95h-12.12zM173.85,256.03h12.12v1.95h-12.12zM69.22,258.93h12.12v1.95h-12.12zM115.72,263.29h12.12v1.95h-12.12zM69.22,264.75h12.12v1.45h-12.12z"/><path fill="#edd345" d="M150.60,93.25h12.12v1.95h-12.12zM185.47,93.25h12.12v1.95h-12.12zM208.72,94.71h12.12v1.95h-12.12zM220.35,97.61h12.12v1.95h-12.12zM231.97,99.07h11.62v1.95h-11.62zM162.22,100.52h12.12v1.95h-12.12zM173.85,107.79h12.12v1.95h-12.12zM185.47,107.79h12.12v1.95h-12.12zM197.10,116.51h12.12v1.95h-12.12zM92.47,120.87h12.12v1.95h-12.12zM185.47,120.87h12.12v1.95h-12.12zM220.35,120.87h12.12v1.95h-12.12zM173.85,122.32h12.12v1.95h-12.12zM220.35,122.32h12.12v1.95h-12.12zM220.35,123.77h12.12v1.95h-12.12zM150.60,126.68h12.12v1.95h-12.12zM162.22,126.68h12.12v1.95h-12.12zM173.85,131.04h12.12v1.95h-12.12zM220.35,132.49h12.12v1.95h-12.12zM231.97,133.95h11.62v1.95h-11.62zM185.47,135.40h12.12v1.95h-12.12zM150.60,136.85h12.12v1.95h-12.12zM162.22,136.85h12.12v1.95h-12.12zM208.72,136.85h12.12v1.95h-12.12zM185.47,141.21h12.12v1.95h-12.12zM208.72,141.21h12.12v1.95h-12.12zM185.47,145.57h12.12v1.95h-12.12zM104.10,148.48h12.12v1.95h-12.12zM57.60,149.93h12.12v1.95h-12.12zM104.10,151.39h12.12v1.95h-12.12zM92.47,155.75h12.12v1.95h-12.12zM69.22,160.11h12.12v1.95h-12.12zM92.47,163.01h12.12v1.95h-12.12zM138.97,163.01h12.12v1.95h-12.12zM104.10,164.47h12.12v1.95h-12.12zM104.10,168.83h12.12v1.95h-12.12zM208.72,170.28h12.12v1.95h-12.12zM150.60,171.73h12.12v1.95h-12.12zM162.22,171.73h12.12v1.95h-12.12zM208.72,171.73h12.12v1.95h-12.12zM162.22,173.19h12.12v1.95h-12.12zM220.35,173.19h12.12v1.95h-12.12zM150.60,174.64h12.12v1.95h-12.12zM150.60,177.55h12.12v1.95h-12.12zM162.22,177.55h12.12v1.95h-12.12zM197.10,177.55h12.12v1.95h-12.12zM208.72,183.36h12.12v1.95h-12.12zM185.47,187.72h12.12v1.95h-12.12zM162.22,194.99h12.12v1.95h-12.12zM220.35,199.35h12.12v1.95h-12.12zM185.47,200.80h12.12v1.95h-12.12zM231.97,200.80h11.62v1.95h-11.62zM208.72,206.61h12.12v1.95h-12.12zM231.97,206.61h11.62v1.95h-11.62zM150.60,213.88h12.12v1.95h-12.12zM162.22,213.88h12.12v1.95h-12.12zM197.10,213.88h12.12v1.95h-12.12zM208.72,215.33h12.12v1.95h-12.12zM150.60,218.24h12.12v1.95h-12.12zM150.60,221.15h12.12v1.95h-12.12zM138.97,224.05h12.12v1.95h-12.12zM150.60,224.05h12.12v1.95h-12.12zM104.10,228.41h12.12v1.95h-12.12zM115.72,229.87h12.12v1.95h-12.12zM138.97,229.87h12.12v1.95h-12.12zM138.97,232.77h12.12v1.95h-12.12zM127.35,234.23h12.12v1.95h-12.12zM104.10,237.13h12.12v1.95h-12.12zM104.10,238.59h12.12v1.95h-12.12zM127.35,244.40h12.12v1.95h-12.12zM138.97,244.40h12.12v1.95h-12.12zM138.97,250.21h12.12v1.95h-12.12zM69.22,254.57h12.12v1.95h-12.12zM80.85,256.03h12.12v1.95h-12.12zM115.72,256.03h12.12v1.95h-12.12zM127.35,256.03h12.12v1.95h-12.12zM80.85,257.48h12.12v1.95h-12.12zM69.22,263.29h12.12v1.95h-12.12z"/><path fill="#ecd646" d="M220.35,91.80h12.12v1.95h-12.12zM231.97,91.80h11.62v1.95h-11.62zM231.97,93.25h11.62v1.95h-11.62zM197.10,99.07h12.12v1.95h-12.12zM150.60,100.52h12.12v1.95h-12.12zM231.97,100.52h11.62v1.95h-11.62zM162.22,107.79h12.12v1.95h-12.12zM185.47,109.24h12.12v1.95h-12.12zM231.97,110.69h11.62v1.95h-11.62zM197.10,112.15h12.12v1.95h-12.12zM197.10,115.05h12.12v1.95h-12.12zM220.35,116.51h12.12v1.95h-12.12zM80.85,117.96h12.12v1.95h-12.12zM197.10,117.96h12.12v1.95h-12.12zM162.22,119.41h12.12v1.95h-12.12zM231.97,123.77h11.62v1.95h-11.62zM162.22,125.23h12.12v1.95h-12.12zM185.47,125.23h12.12v1.95h-12.12zM185.47,128.13h12.12v1.95h-12.12zM208.72,132.49h12.12v1.95h-12.12zM173.85,136.85h12.12v1.95h-12.12zM115.72,139.76h12.12v1.95h-12.12zM231.97,139.76h11.62v1.95h-11.62zM150.60,141.21h12.12v1.95h-12.12zM127.35,147.03h12.12v1.95h-12.12zM115.72,149.93h12.12v1.95h-12.12zM127.35,158.65h12.12v1.95h-12.12zM138.97,160.11h12.12v1.95h-12.12zM138.97,165.92h12.12v1.95h-12.12zM162.22,168.83h12.12v1.95h-12.12zM185.47,168.83h12.12v1.95h-12.12zM231.97,171.73h11.62v1.95h-11.62zM150.60,183.36h12.12v1.95h-12.12zM185.47,183.36h12.12v1.95h-12.12zM220.35,189.17h12.12v1.95h-12.12zM162.22,199.35h12.12v1.95h-12.12zM208.72,199.35h12.12v1.95h-12.12zM162.22,206.61h12.12v1.95h-12.12zM173.85,206.61h12.12v1.95h-12.12zM162.22,208.07h12.12v1.95h-12.12zM80.85,210.97h12.12v1.95h-12.12zM197.10,210.97h12.12v1.95h-12.12zM197.10,212.43h12.12v1.95h-12.12zM231.97,212.43h11.62v1.95h-11.62zM115.72,215.33h12.12v1.95h-12.12zM197.10,215.33h12.12v1.95h-12.12zM150.60,216.79h12.12v1.95h-12.12zM208.72,216.79h12.12v1.95h-12.12zM208.72,222.60h12.12v1.95h-12.12zM150.60,225.51h12.12v1.95h-12.12zM104.10,231.32h12.12v1.95h-12.12zM115.72,232.77h12.12v1.95h-12.12zM92.47,237.13h12.12v1.95h-12.12zM115.72,238.59h12.12v1.95h-12.12zM80.85,241.49h12.12v1.95h-12.12zM138.97,241.49h12.12v1.95h-12.12zM80.85,242.95h12.12v1.95h-12.12zM127.35,254.57h12.12v1.95h-12.12zM104.10,257.48h12.12v1.95h-12.12zM80.85,260.39h12.12v1.95h-12.12zM127.35,260.39h12.12v1.95h-12.12zM115.72,261.84h12.12v1.95h-12.12zM92.47,264.75h12.12v1.45h-12.12z"/><path fill="#ecd947" d="M138.97,91.80h12.12v1.95h-12.12zM150.60,91.80h12.12v1.95h-12.12zM173.85,91.80h12.12v1.95h-12.12zM208.72,97.61h12.12v1.95h-12.12zM173.85,100.52h12.12v1.95h-12.12zM173.85,101.97h12.12v1.95h-12.12zM231.97,101.97h11.62v1.95h-11.62zM173.85,103.43h12.12v1.95h-12.12zM162.22,106.33h12.12v1.95h-12.12zM173.85,109.24h12.12v1.95h-12.12zM150.60,112.15h12.12v1.95h-12.12zM208.72,116.51h12.12v1.95h-12.12zM185.47,119.41h12.12v1.95h-12.12zM197.10,119.41h12.12v1.95h-12.12zM208.72,126.68h12.12v1.95h-12.12zM162.22,129.59h12.12v1.95h-12.12zM150.60,132.49h12.12v1.95h-12.12zM231.97,142.67h11.62v1.95h-11.62zM208.72,144.12h12.12v1.95h-12.12zM115.72,148.48h12.12v1.95h-12.12zM127.35,152.84h12.12v1.95h-12.12zM115.72,154.29h12.12v1.95h-12.12zM127.35,155.75h12.12v1.95h-12.12zM104.10,158.65h12.12v1.95h-12.12zM57.60,165.92h12.12v1.95h-12.12zM69.22,165.92h12.12v1.95h-12.12zM173.85,171.73h12.12v1.95h-12.12zM173.85,176.09h12.12v1.95h-12.12zM220.35,179.00h12.12v1.95h-12.12zM197.10,180.45h12.12v1.95h-12.12zM173.85,181.91h12.12v1.95h-12.12zM185.47,186.27h12.12v1.95h-12.12zM162.22,192.08h12.12v1.95h-12.12zM220.35,193.53h12.12v1.95h-12.12zM150.60,194.99h12.12v1.95h-12.12zM231.97,199.35h11.62v1.95h-11.62zM150.60,203.71h12.12v1.95h-12.12zM197.10,205.16h12.12v1.95h-12.12zM150.60,212.43h12.12v1.95h-12.12zM162.22,212.43h12.12v1.95h-12.12zM80.85,213.88h12.12v1.95h-12.12zM220.35,215.33h12.12v1.95h-12.12zM185.47,216.79h12.12v1.95h-12.12zM150.60,219.69h12.12v1.95h-12.12zM185.47,224.05h12.12v1.95h-12.12zM197.10,224.05h12.12v1.95h-12.12zM197.10,226.96h12.12v1.95h-12.12zM220.35,226.96h12.12v1.95h-12.12zM115.72,228.41h12.12v1.95h-12.12zM127.35,228.41h12.12v1.95h-12.12zM104.10,229.87h12.12v1.95h-12.12zM80.85,231.32h12.12v1.95h-12.12zM69.22,240.04h12.12v1.95h-12.12zM104.10,247.31h12.12v1.95h-12.12zM104.10,261.84h12.12v1.95h-12.12zM80.85,264.75h12.12v1.45h-12.12zM127.35,264.75h12.12v1.45h-12.12z"/><path fill="#ecdd48" d="M162.22,91.80h12.12v1.95h-12.12zM138.97,93.25h12.12v1.95h-12.12zM162.22,96.16h12.12v1.95h-12.12zM127.35,97.61h12.12v1.95h-12.12zM150.60,99.07h12.12v1.95h-12.12zM173.85,99.07h12.12v1.95h-12.12zM220.35,100.52h12.12v1.95h-12.12zM150.60,103.43h12.12v1.95h-12.12zM231.97,104.88h11.62v1.95h-11.62zM150.60,106.33h12.12v1.95h-12.12zM80.85,107.79h12.12v1.95h-12.12zM150.60,107.79h12.12v1.95h-12.12zM208.72,107.79h12.12v1.95h-12.12zM220.35,109.24h12.12v1.95h-12.12zM185.47,110.69h12.12v1.95h-12.12zM208.72,110.69h12.12v1.95h-12.12zM220.35,110.69h12.12v1.95h-12.12zM173.85,113.60h12.12v1.95h-12.12zM208.72,115.05h12.12v1.95h-12.12zM162.22,120.87h12.12v1.95h-12.12zM150.60,123.77h12.12v1.95h-12.12zM173.85,123.77h12.12v1.95h-12.12zM220.35,126.68h12.12v1.95h-12.12zM150.60,131.04h12.12v1.95h-12.12zM162.22,132.49h12.12v1.95h-12.12zM173.85,135.40h12.12v1.95h-12.12zM197.10,136.85h12.12v1.95h-12.12zM220.35,144.12h12.12v1.95h-12.12zM197.10,145.57h12.12v1.95h-12.12zM127.35,148.48h12.12v1.95h-12.12zM138.97,148.48h12.12v1.95h-12.12zM127.35,149.93h12.12v1.95h-12.12zM208.72,149.93h12.12v1.95h-12.12zM138.97,151.39h12.12v1.95h-12.12zM69.22,155.75h12.12v1.95h-12.12zM69.22,157.20h12.12v1.95h-12.12zM92.47,157.20h12.12v1.95h-12.12zM104.10,160.11h12.12v1.95h-12.12zM115.72,160.11h12.12v1.95h-12.12zM80.85,163.01h12.12v1.95h-12.12zM104.10,165.92h12.12v1.95h-12.12zM220.35,171.73h12.12v1.95h-12.12zM150.60,176.09h12.12v1.95h-12.12zM220.35,176.09h12.12v1.95h-12.12zM185.47,177.55h12.12v1.95h-12.12zM185.47,181.91h12.12v1.95h-12.12zM231.97,181.91h11.62v1.95h-11.62zM173.85,184.81h12.12v1.95h-12.12zM197.10,184.81h12.12v1.95h-12.12zM197.10,189.17h12.12v1.95h-12.12zM197.10,190.63h12.12v1.95h-12.12zM150.60,192.08h12.12v1.95h-12.12zM220.35,192.08h12.12v1.95h-12.12zM231.97,193.53h11.62v1.95h-11.62zM197.10,197.89h12.12v1.95h-12.12zM150.60,202.25h12.12v1.95h-12.12zM173.85,203.71h12.12v1.95h-12.12zM162.22,210.97h12.12v1.95h-12.12zM231.97,219.69h11.62v1.95h-11.62zM173.85,221.15h12.12v1.95h-12.12zM208.72,226.96h12.12v1.95h-12.12zM231.97,226.96h11.62v1.95h-11.62zM138.97,228.41h12.12v1.95h-12.12zM80.85,234.23h12.12v1.95h-12.12zM104.10,241.49h12.12v1.95h-12.12zM115.72,242.95h12.12v1.95h-12.12zM80.85,244.40h12.12v1.95h-12.12zM115.72,244.40h12.12v1.95h-12.12zM69.22,251.67h12.12v1.95h-12.12zM104.10,251.67h12.12v1.95h-12.12zM138.97,251.67h12.12v1.95h-12.12zM115.72,260.39h12.12v1.95h-12.12z"/><path fill="#ecdf4b" d="M185.47,91.80h12.12v1.95h-12.12zM162.22,99.07h12.12v1.95h-12.12zM197.10,100.52h12.12v1.95h-12.12zM231.97,103.43h11.62v1.95h-11.62zM185.47,106.33h12.12v1.95h-12.12zM220.35,106.33h12.12v1.95h-12.12zM185.47,112.15h12.12v1.95h-12.12zM208.72,112.15h12.12v1.95h-12.12zM220.35,113.60h12.12v1.95h-12.12zM173.85,115.05h12.12v1.95h-12.12zM173.85,119.41h12.12v1.95h-12.12zM208.72,123.77h12.12v1.95h-12.12zM173.85,126.68h12.12v1.95h-12.12zM150.60,128.13h12.12v1.95h-12.12zM197.10,128.13h12.12v1.95h-12.12zM208.72,128.13h12.12v1.95h-12.12zM231.97,128.13h11.62v1.95h-11.62zM220.35,129.59h12.12v1.95h-12.12zM197.10,131.04h12.12v1.95h-12.12zM208.72,135.40h12.12v1.95h-12.12zM208.72,138.31h12.12v1.95h-12.12zM231.97,138.31h11.62v1.95h-11.62zM80.85,145.57h12.12v1.95h-12.12zM115.72,151.39h12.12v1.95h-12.12zM57.60,152.84h12.12v1.95h-12.12zM69.22,154.29h12.12v1.95h-12.12zM80.85,158.65h12.12v1.95h-12.12zM115.72,165.92h12.12v1.95h-12.12zM231.97,168.83h11.62v1.95h-11.62zM162.22,176.09h12.12v1.95h-12.12zM208.72,176.09h12.12v1.95h-12.12zM231.97,177.55h11.62v1.95h-11.62zM150.60,179.00h12.12v1.95h-12.12zM208.72,179.00h12.12v1.95h-12.12zM185.47,180.45h12.12v1.95h-12.12zM197.10,192.08h12.12v1.95h-12.12zM197.10,194.99h12.12v1.95h-12.12zM185.47,196.44h12.12v1.95h-12.12zM150.60,197.89h12.12v1.95h-12.12zM231.97,197.89h11.62v1.95h-11.62zM150.60,199.35h12.12v1.95h-12.12zM197.10,199.35h12.12v1.95h-12.12zM197.10,203.71h12.12v1.95h-12.12zM173.85,205.16h12.12v1.95h-12.12zM185.47,206.61h12.12v1.95h-12.12zM162.22,209.52h12.12v1.95h-12.12zM185.47,210.97h12.12v1.95h-12.12zM208.72,213.88h12.12v1.95h-12.12zM173.85,215.33h12.12v1.95h-12.12zM197.10,216.79h12.12v1.95h-12.12zM208.72,218.24h12.12v1.95h-12.12zM150.60,222.60h12.12v1.95h-12.12zM80.85,228.41h12.12v1.95h-12.12zM92.47,228.41h12.12v1.95h-12.12zM80.85,229.87h12.12v1.95h-12.12zM57.60,232.77h12.12v1.95h-12.12zM138.97,234.23h12.12v1.95h-12.12zM115.72,241.49h12.12v1.95h-12.12zM80.85,247.31h12.12v1.95h-12.12zM80.85,250.21h12.12v1.95h-12.12zM80.85,258.93h12.12v1.95h-12.12zM92.47,258.93h12.12v1.95h-12.12zM92.47,260.39h12.12v1.95h-12.12zM138.97,260.39h12.12v1.95h-12.12zM220.35,261.84h12.12v1.95h-12.12zM92.47,263.29h12.12v1.95h-12.12zM127.35,263.29h12.12v1.95h-12.12z"/><path fill="#ede14f" d="M185.47,103.43h12.12v1.95h-12.12zM220.35,103.43h12.12v1.95h-12.12zM173.85,104.88h12.12v1.95h-12.12zM173.85,106.33h12.12v1.95h-12.12zM197.10,110.69h12.12v1.95h-12.12zM150.60,115.05h12.12v1.95h-12.12zM162.22,115.05h12.12v1.95h-12.12zM208.72,117.96h12.12v1.95h-12.12zM173.85,120.87h12.12v1.95h-12.12zM231.97,120.87h11.62v1.95h-11.62zM197.10,122.32h12.12v1.95h-12.12zM220.35,128.13h12.12v1.95h-12.12zM185.47,129.59h12.12v1.95h-12.12zM185.47,131.04h12.12v1.95h-12.12zM231.97,131.04h11.62v1.95h-11.62zM197.10,133.95h12.12v1.95h-12.12zM220.35,133.95h12.12v1.95h-12.12zM150.60,138.31h12.12v1.95h-12.12zM185.47,138.31h12.12v1.95h-12.12zM220.35,141.21h12.12v1.95h-12.12zM162.22,142.67h12.12v1.95h-12.12zM173.85,142.67h12.12v1.95h-12.12zM208.72,142.67h12.12v1.95h-12.12zM185.47,144.12h12.12v1.95h-12.12zM197.10,144.12h12.12v1.95h-12.12zM69.22,151.39h12.12v1.95h-12.12zM69.22,152.84h12.12v1.95h-12.12zM115.72,152.84h12.12v1.95h-12.12zM104.10,157.20h12.12v1.95h-12.12zM115.72,157.20h12.12v1.95h-12.12zM173.85,168.83h12.12v1.95h-12.12zM150.60,170.28h12.12v1.95h-12.12zM197.10,173.19h12.12v1.95h-12.12zM231.97,173.19h11.62v1.95h-11.62zM231.97,176.09h11.62v1.95h-11.62zM185.47,184.81h12.12v1.95h-12.12zM197.10,186.27h12.12v1.95h-12.12zM150.60,193.53h12.12v1.95h-12.12zM231.97,196.44h11.62v1.95h-11.62zM185.47,197.89h12.12v1.95h-12.12zM173.85,202.25h12.12v1.95h-12.12zM150.60,210.97h12.12v1.95h-12.12zM185.47,212.43h12.12v1.95h-12.12zM208.72,212.43h12.12v1.95h-12.12zM231.97,213.88h11.62v1.95h-11.62zM185.47,215.33h12.12v1.95h-12.12zM185.47,221.15h12.12v1.95h-12.12zM231.97,232.77h11.62v1.95h-11.62zM69.22,235.68h12.12v1.95h-12.12zM80.85,235.68h12.12v1.95h-12.12zM115.72,235.68h12.12v1.95h-12.12zM127.35,237.13h12.12v1.95h-12.12zM127.35,241.49h12.12v1.95h-12.12zM104.10,253.12h12.12v1.95h-12.12zM127.35,261.84h12.12v1.95h-12.12zM80.85,263.29h12.12v1.95h-12.12zM138.97,263.29h12.12v1.95h-12.12z"/><path fill="#ede253" d="M173.85,96.16h12.12v1.95h-12.12zM197.10,97.61h12.12v1.95h-12.12zM185.47,100.52h12.12v1.95h-12.12zM185.47,101.97h12.12v1.95h-12.12zM162.22,104.88h12.12v1.95h-12.12zM185.47,104.88h12.12v1.95h-12.12zM197.10,107.79h12.12v1.95h-12.12zM197.10,109.24h12.12v1.95h-12.12zM208.72,109.24h12.12v1.95h-12.12zM185.47,113.60h12.12v1.95h-12.12zM197.10,113.60h12.12v1.95h-12.12zM231.97,115.05h11.62v1.95h-11.62zM150.60,117.96h12.12v1.95h-12.12zM150.60,119.41h12.12v1.95h-12.12zM150.60,122.32h12.12v1.95h-12.12zM208.72,122.32h12.12v1.95h-12.12zM197.10,123.77h12.12v1.95h-12.12zM173.85,128.13h12.12v1.95h-12.12zM197.10,129.59h12.12v1.95h-12.12zM208.72,133.95h12.12v1.95h-12.12zM231.97,135.40h11.62v1.95h-11.62zM150.60,139.76h12.12v1.95h-12.12zM173.85,139.76h12.12v1.95h-12.12zM197.10,142.67h12.12v1.95h-12.12zM208.72,145.57h12.12v1.95h-12.12zM104.10,147.03h12.12v1.95h-12.12zM138.97,147.03h12.12v1.95h-12.12zM80.85,148.48h12.12v1.95h-12.12zM138.97,149.93h12.12v1.95h-12.12zM127.35,151.39h12.12v1.95h-12.12zM138.97,157.20h12.12v1.95h-12.12zM127.35,165.92h12.12v1.95h-12.12zM231.97,170.28h11.62v1.95h-11.62zM185.47,174.64h12.12v1.95h-12.12zM197.10,174.64h12.12v1.95h-12.12zM57.60,177.55h12.12v1.95h-12.12zM173.85,179.00h12.12v1.95h-12.12zM104.10,180.45h12.12v1.95h-12.12zM173.85,180.45h12.12v1.95h-12.12zM197.10,181.91h12.12v1.95h-12.12zM231.97,187.72h11.62v1.95h-11.62zM220.35,190.63h12.12v1.95h-12.12zM185.47,194.99h12.12v1.95h-12.12zM197.10,196.44h12.12v1.95h-12.12zM197.10,206.61h12.12v1.95h-12.12zM197.10,208.07h12.12v1.95h-12.12zM208.72,209.52h12.12v1.95h-12.12zM231.97,209.52h11.62v1.95h-11.62zM173.85,216.79h12.12v1.95h-12.12zM162.22,222.60h12.12v1.95h-12.12zM173.85,222.60h12.12v1.95h-12.12zM127.35,231.32h12.12v1.95h-12.12zM104.10,244.40h12.12v1.95h-12.12zM115.72,247.31h12.12v1.95h-12.12zM208.72,248.76h12.12v1.95h-12.12zM138.97,253.12h12.12v1.95h-12.12zM185.47,254.57h12.12v1.95h-12.12zM115.72,258.93h12.12v1.95h-12.12zM138.97,258.93h12.12v1.95h-12.12zM92.47,261.84h12.12v1.95h-12.12z"/><path fill="#eee457" d="M197.10,91.80h12.12v1.95h-12.12zM197.10,96.16h12.12v1.95h-12.12zM231.97,96.16h11.62v1.95h-11.62zM220.35,107.79h12.12v1.95h-12.12zM162.22,113.60h12.12v1.95h-12.12zM231.97,113.60h11.62v1.95h-11.62zM197.10,120.87h12.12v1.95h-12.12zM80.85,122.32h12.12v1.95h-12.12zM220.35,131.04h12.12v1.95h-12.12zM162.22,135.40h12.12v1.95h-12.12zM162.22,138.31h12.12v1.95h-12.12zM57.60,157.20h12.12v1.95h-12.12zM92.47,160.11h12.12v1.95h-12.12zM220.35,167.37h12.12v1.95h-12.12zM197.10,168.83h12.12v1.95h-12.12zM162.22,170.28h12.12v1.95h-12.12zM173.85,170.28h12.12v1.95h-12.12zM197.10,171.73h12.12v1.95h-12.12zM173.85,177.55h12.12v1.95h-12.12zM231.97,180.45h11.62v1.95h-11.62zM185.47,189.17h12.12v1.95h-12.12zM150.60,190.63h12.12v1.95h-12.12zM197.10,193.53h12.12v1.95h-12.12zM197.10,202.25h12.12v1.95h-12.12zM220.35,202.25h12.12v1.95h-12.12zM231.97,202.25h11.62v1.95h-11.62zM231.97,208.07h11.62v1.95h-11.62zM197.10,209.52h12.12v1.95h-12.12zM231.97,210.97h11.62v1.95h-11.62zM138.97,215.33h12.12v1.95h-12.12zM185.47,218.24h12.12v1.95h-12.12zM197.10,219.69h12.12v1.95h-12.12zM197.10,221.15h12.12v1.95h-12.12zM197.10,222.60h12.12v1.95h-12.12zM220.35,222.60h12.12v1.95h-12.12zM127.35,232.77h12.12v1.95h-12.12zM127.35,242.95h12.12v1.95h-12.12zM80.85,245.85h12.12v1.95h-12.12zM138.97,247.31h12.12v1.95h-12.12zM80.85,251.67h12.12v1.95h-12.12zM127.35,257.48h12.12v1.95h-12.12z"/><path fill="#eee65c" d="M150.60,96.16h12.12v1.95h-12.12zM220.35,101.97h12.12v1.95h-12.12zM162.22,103.43h12.12v1.95h-12.12zM197.10,106.33h12.12v1.95h-12.12zM208.72,113.60h12.12v1.95h-12.12zM220.35,115.05h12.12v1.95h-12.12zM162.22,131.04h12.12v1.95h-12.12zM115.72,136.85h12.12v1.95h-12.12zM185.47,139.76h12.12v1.95h-12.12zM150.60,144.12h12.12v1.95h-12.12zM150.60,145.57h12.12v1.95h-12.12zM173.85,145.57h12.12v1.95h-12.12zM231.97,145.57h11.62v1.95h-11.62zM57.60,151.39h12.12v1.95h-12.12zM80.85,160.11h12.12v1.95h-12.12zM197.10,176.09h12.12v1.95h-12.12zM173.85,183.36h12.12v1.95h-12.12zM220.35,183.36h12.12v1.95h-12.12zM173.85,192.08h12.12v1.95h-12.12zM185.47,192.08h12.12v1.95h-12.12zM185.47,205.16h12.12v1.95h-12.12zM173.85,208.07h12.12v1.95h-12.12zM185.47,209.52h12.12v1.95h-12.12zM231.97,215.33h11.62v1.95h-11.62zM231.97,216.79h11.62v1.95h-11.62zM173.85,218.24h12.12v1.95h-12.12zM173.85,226.96h12.12v1.95h-12.12zM57.60,235.68h12.12v1.95h-12.12zM104.10,240.04h12.12v1.95h-12.12zM69.22,247.31h12.12v1.95h-12.12zM127.35,258.93h12.12v1.95h-12.12z"/><path fill="#efe760" d="M150.60,104.88h12.12v1.95h-12.12zM220.35,104.88h12.12v1.95h-12.12zM208.72,119.41h12.12v1.95h-12.12zM150.60,133.95h12.12v1.95h-12.12zM197.10,135.40h12.12v1.95h-12.12zM220.35,135.40h12.12v1.95h-12.12zM197.10,138.31h12.12v1.95h-12.12zM197.10,139.76h12.12v1.95h-12.12zM220.35,142.67h12.12v1.95h-12.12zM115.72,147.03h12.12v1.95h-12.12zM80.85,149.93h12.12v1.95h-12.12zM80.85,161.56h12.12v1.95h-12.12zM80.85,171.73h12.12v1.95h-12.12zM231.97,179.00h11.62v1.95h-11.62zM231.97,184.81h11.62v1.95h-11.62zM173.85,194.99h12.12v1.95h-12.12zM231.97,194.99h11.62v1.95h-11.62zM173.85,199.35h12.12v1.95h-12.12zM127.35,200.80h12.12v1.95h-12.12zM173.85,210.97h12.12v1.95h-12.12zM80.85,212.43h12.12v1.95h-12.12zM185.47,213.88h12.12v1.95h-12.12zM220.35,216.79h12.12v1.95h-12.12zM173.85,219.69h12.12v1.95h-12.12zM185.47,219.69h12.12v1.95h-12.12zM220.35,219.69h12.12v1.95h-12.12zM220.35,224.05h12.12v1.95h-12.12zM138.97,254.57h12.12v1.95h-12.12zM80.85,261.84h12.12v1.95h-12.12z"/><path fill="#efe964" d="M185.47,96.16h12.12v1.95h-12.12zM185.47,99.07h12.12v1.95h-12.12zM197.10,104.88h12.12v1.95h-12.12zM231.97,125.23h11.62v1.95h-11.62zM220.35,136.85h12.12v1.95h-12.12zM220.35,138.31h12.12v1.95h-12.12zM162.22,139.76h12.12v1.95h-12.12zM127.35,157.20h12.12v1.95h-12.12zM127.35,160.11h12.12v1.95h-12.12zM220.35,168.83h12.12v1.95h-12.12zM185.47,179.00h12.12v1.95h-12.12zM231.97,183.36h11.62v1.95h-11.62zM231.97,186.27h11.62v1.95h-11.62zM173.85,190.63h12.12v1.95h-12.12zM185.47,190.63h12.12v1.95h-12.12zM231.97,190.63h11.62v1.95h-11.62zM185.47,193.53h12.12v1.95h-12.12zM173.85,196.44h12.12v1.95h-12.12zM220.35,203.71h12.12v1.95h-12.12zM231.97,203.71h11.62v1.95h-11.62zM220.35,209.52h12.12v1.95h-12.12zM220.35,210.97h12.12v1.95h-12.12zM173.85,212.43h12.12v1.95h-12.12zM231.97,221.15h11.62v1.95h-11.62zM185.47,225.51h12.12v1.95h-12.12zM92.47,235.68h12.12v1.95h-12.12zM115.72,240.04h12.12v1.95h-12.12zM127.35,240.04h12.12v1.95h-12.12zM104.10,254.57h12.12v1.95h-12.12z"/><path fill="#f0eb69" d="M185.47,97.61h12.12v1.95h-12.12zM150.60,113.60h12.12v1.95h-12.12zM150.60,116.51h12.12v1.95h-12.12zM150.60,125.23h12.12v1.95h-12.12zM197.10,126.68h12.12v1.95h-12.12zM173.85,138.31h12.12v1.95h-12.12zM185.47,142.67h12.12v1.95h-12.12zM57.60,147.03h12.12v1.95h-12.12zM80.85,165.92h12.12v1.95h-12.12zM185.47,176.09h12.12v1.95h-12.12zM173.85,189.17h12.12v1.95h-12.12zM231.97,189.17h11.62v1.95h-11.62zM173.85,197.89h12.12v1.95h-12.12zM185.47,208.07h12.12v1.95h-12.12zM220.35,213.88h12.12v1.95h-12.12zM220.35,221.15h12.12v1.95h-12.12zM220.35,225.51h12.12v1.95h-12.12zM138.97,235.68h12.12v1.95h-12.12zM80.85,238.59h12.12v1.95h-12.12zM138.97,240.04h12.12v1.95h-12.12zM104.10,242.95h12.12v1.95h-12.12zM231.97,261.84h11.62v1.95h-11.62z"/><path fill="#f0ec6d" d="M150.60,120.87h12.12v1.95h-12.12zM208.72,120.87h12.12v1.95h-12.12zM220.35,125.23h12.12v1.95h-12.12zM220.35,145.57h12.12v1.95h-12.12zM92.47,147.03h12.12v1.95h-12.12zM220.35,170.28h12.12v1.95h-12.12zM185.47,171.73h12.12v1.95h-12.12zM197.10,183.36h12.12v1.95h-12.12zM173.85,193.53h12.12v1.95h-12.12zM185.47,202.25h12.12v1.95h-12.12zM173.85,213.88h12.12v1.95h-12.12zM185.47,222.60h12.12v1.95h-12.12zM231.97,222.60h11.62v1.95h-11.62zM185.47,226.96h12.12v1.95h-12.12zM104.10,235.68h12.12v1.95h-12.12zM127.35,235.68h12.12v1.95h-12.12z"/><path fill="#f1ed73" d="M162.22,133.95h12.12v1.95h-12.12zM150.60,142.67h12.12v1.95h-12.12zM80.85,157.20h12.12v1.95h-12.12zM80.85,164.47h12.12v1.95h-12.12zM197.10,179.00h12.12v1.95h-12.12zM185.47,199.35h12.12v1.95h-12.12zM220.35,206.61h12.12v1.95h-12.12zM220.35,208.07h12.12v1.95h-12.12z"/><path fill="#f2ee79" d="M208.72,96.16h12.12v1.95h-12.12zM173.85,125.23h12.12v1.95h-12.12zM208.72,125.23h12.12v1.95h-12.12zM220.35,139.76h12.12v1.95h-12.12zM80.85,254.57h12.12v1.95h-12.12z"/><path fill="#f3f07f" d="M150.60,135.40h12.12v1.95h-12.12zM80.85,147.03h12.12v1.95h-12.12zM185.47,203.71h12.12v1.95h-12.12zM115.72,254.57h12.12v1.95h-12.12z"/><path fill="#f4f28a" d="M197.10,125.23h12.12v1.95h-12.12zM80.85,240.04h12.12v1.95h-12.12z"/><path fill="#f5f390" d="M185.47,170.28h12.12v1.95h-12.12z"/><path fill="#f6f496" d="M197.10,170.28h12.12v1.95h-12.12zM173.85,209.52h12.12v1.95h-12.12z"/></g>
<line x1="133.56" y1="89.60" x2="133.56" y2="76.90" stroke="#7e7e7e" stroke-width="1.0"/>
<line x1="145.19" y1="89.60" x2="145.19" y2="76.90" stroke="#7e7e7e" stroke-width="1.0"/>
<line x1="133.56" y1="76.90" x2="145.19" y2="76.90" stroke="#7e7e7e" stroke-width="1.0"/>
<line x1="121.94" y1="89.60" x2="121.94" y2="76.00" stroke="#7e7e7e" stroke-width="1.0"/>
<line x1="139.38" y1="76.90" x2="139.38" y2="76.00" stroke="#7e7e7e" stroke-width="1.0"/>
<line x1="121.94" y1="76.00" x2="139.38" y2="76.00" stroke="#7e7e7e" stroke-width="1.0"/>
<line x1="110.31" y1="89.60" x2="110.31" y2="71.60" stroke="#7e7e7e" stroke-width="1.0"/>
<line x1="130.66" y1="76.00" x2="130.66" y2="71.60" stroke="#7e7e7e" stroke-width="1.0"/>
<line x1="110.31" y1="71.60" x2="130.66" y2="71.60" stroke="#7e7e7e" stroke-width="1.0"/>
<line x1="98.69" y1="89.60" x2="98.69" y2="67.70" stroke="#7e7e7e" stroke-width="1.0"/>
<line x1="120.48" y1="71.60" x2="120.48" y2="67.70" stroke="#7e7e7e" stroke-width="1.0"/>
<line x1="98.69" y1="67.70" x2="120.48" y2="67.70" stroke="#7e7e7e" stroke-width="1.0"/>
<line x1="87.06" y1="89.60" x2="87.06" y2="62.70" stroke="#7e7e7e" stroke-width="1.0"/>
<line x1="109.59" y1="67.70" x2="109.59" y2="62.70" stroke="#7e7e7e" stroke-width="1.0"/>
<line x1="87.06" y1="62.70" x2="109.59" y2="62.70" stroke="#7e7e7e" stroke-width="1.0"/>
<line x1="63.81" y1="89.60" x2="63.81" y2="69.70" stroke="#7e7e7e" stroke-width="1.0"/>
<line x1="75.44" y1="89.60" x2="75.44" y2="69.70" stroke="#7e7e7e" stroke-width="1.0"/>
<line x1="63.81" y1="69.70" x2="75.44" y2="69.70" stroke="#7e7e7e" stroke-width="1.0"/>
<line x1="69.62" y1="69.70" x2="69.62" y2="58.80" stroke="#7e7e7e" stroke-width="1.0"/>
<line x1="98.32" y1="62.70" x2="98.32" y2="58.80" stroke="#7e7e7e" stroke-width="1.0"/>
<line x1="69.62" y1="58.80" x2="98.32" y2="58.80" stroke="#7e7e7e" stroke-width="1.0"/>
<line x1="168.44" y1="89.60" x2="168.44" y2="71.00" stroke="#7e7e7e" stroke-width="1.0"/>
<line x1="180.06" y1="89.60" x2="180.06" y2="71.00" stroke="#7e7e7e" stroke-width="1.0"/>
<line x1="168.44" y1="71.00" x2="180.06" y2="71.00" stroke="#7e7e7e" stroke-width="1.0"/>
<line x1="156.81" y1="89.60" x2="156.81" y2="67.30" stroke="#7e7e7e" stroke-width="1.0"/>
<line x1="174.25" y1="71.00" x2="174.25" y2="67.30" stroke="#7e7e7e" stroke-width="1.0"/>
<line x1="156.81" y1="67.30" x2="174.25" y2="67.30" stroke="#7e7e7e" stroke-width="1.0"/>
<line x1="191.69" y1="89.60" x2="191.69" y2="69.30" stroke="#7e7e7e" stroke-width="1.0"/>
<line x1="203.31" y1="89.60" x2="203.31" y2="69.30" stroke="#7e7e7e" stroke-width="1.0"/>
<line x1="191.69" y1="69.30" x2="203.31" y2="69.30" stroke="#7e7e7e" stroke-width="1.0"/>
<line x1="226.56" y1="89.60" x2="226.56" y2="71.00" stroke="#7e7e7e" stroke-width="1.0"/>
<line x1="238.19" y1="89.60" x2="238.19" y2="71.00" stroke="#7e7e7e" stroke-width="1.0"/>
<line x1="226.56" y1="71.00" x2="238.19" y2="71.00" stroke="#7e7e7e" stroke-width="1.0"/>
<line x1="214.94" y1="89.60" x2="214.94" y2="69.70" stroke="#7e7e7e" stroke-width="1.0"/>
<line x1="232.38" y1="71.00" x2="232.38" y2="69.70" stroke="#7e7e7e" stroke-width="1.0"/>
<line x1="214.94" y1="69.70" x2="232.38" y2="69.70" stroke="#7e7e7e" stroke-width="1.0"/>
<line x1="197.50" y1="69.30" x2="197.50" y2="66.30" stroke="#7e7e7e" stroke-width="1.0"/>
<line x1="223.66" y1="69.70" x2="223.66" y2="66.30" stroke="#7e7e7e" stroke-width="1.0"/>
<line x1="197.50" y1="66.30" x2="223.66" y2="66.30" stroke="#7e7e7e" stroke-width="1.0"/>
<line x1="165.53" y1="67.30" x2="165.53" y2="58.80" stroke="#7e7e7e" stroke-width="1.0"/>
<line x1="210.58" y1="66.30" x2="210.58" y2="58.80" stroke="#7e7e7e" stroke-width="1.0"/>
<line x1="165.53" y1="58.80" x2="210.58" y2="58.80" stroke="#7e7e7e" stroke-width="1.0"/>
<line x1="83.97" y1="58.80" x2="83.97" y2="41.30" stroke="#7e7e7e" stroke-width="1.0"/>
<line x1="188.05" y1="58.80" x2="188.05" y2="41.30" stroke="#7e7e7e" stroke-width="1.0"/>
<line x1="83.97" y1="41.30" x2="188.05" y2="41.30" stroke="#7e7e7e" stroke-width="1.0"/>
<path d="M40.50,131.40H32.70V146.60H37.50M38.00,156.60H29.60V168.00H36.00M32.70,139.20H15.60V160.80H29.60M40.00,196.80H35.40V207.90H40.00M35.40,202.40H23.40V230.40H32.10M33.90,249.00H28.70V262.50H35.00M23.40,216.60H19.50V257.30H28.70M15.60,150.10H4.50V237.00H19.50" fill="none" stroke="#7a7a7a" stroke-width="0.8"/>
<path d="M50.56,92.15H49.74V92.94H50.97M49.28,93.32H49.11V93.98H51.60M48.67,93.98H48.50V94.63H51.47M48.50,94.31H48.33V95.07H51.18M50.72,96.47H49.86V97.52H51.30M48.82,95.65H48.65V98.12H51.50M51.73,99.43H50.94V99.87H51.71M50.36,98.64H49.51V99.65H50.94M49.51,99.14H49.34V100.30H51.73M50.34,101.04H50.16V101.99H51.09M50.60,104.56H49.59V105.26H51.16M50.74,107.01H49.83V107.66H51.19M50.94,108.75H50.60V109.24H51.28M49.66,107.69H49.01V109.10H49.76M51.68,106.41H48.52V108.39H49.01M48.52,107.40H48.29V109.89H51.34M51.36,105.97H48.12V108.65H48.29M48.12,107.31H47.65V110.66H48.91M49.04,104.91H46.64V108.99H47.65M46.64,106.95H46.47V113.08H50.81M50.75,113.65H50.48V114.25H51.49M46.47,110.02H45.13V114.53H50.13M51.27,103.08H44.96V112.27H45.13M44.96,107.68H44.78V115.18H51.12M51.61,116.00H50.52V116.60H51.12M44.78,111.43H44.61V116.15H49.56M49.57,117.98H49.40V119.13H50.52M44.61,113.79H44.44V119.08H49.22M49.32,101.94H44.26V116.43H44.44M49.34,99.72H44.09V109.19H44.26M48.65,96.88H43.91V104.45H44.09M48.33,94.69H43.74V100.67H43.91M51.26,121.01H51.09V121.45H51.29M51.33,120.36H50.34V120.96H50.52M51.65,119.92H49.75V121.22H49.92M43.74,97.68H41.37V120.57H49.75M41.19,115.56H41.02V122.37H50.75M50.75,123.03H49.16V124.69H49.33M49.16,123.86H48.84V126.31H49.97M41.02,118.97H40.85V125.08H48.84M51.40,129.08H50.02V129.87H51.02M51.30,130.60H51.02V131.04H51.57M49.04,129.42H48.87V131.09H50.75M48.87,130.26H48.38V131.69H51.35M50.13,127.78H47.51V130.98H48.38M40.85,122.02H40.67V127.49H47.17M51.53,132.57H50.57V133.00H51.46M51.34,133.87H50.42V134.45H50.74M49.93,133.30H48.81V134.16H50.42M51.16,132.13H48.39V134.40H48.56M48.39,133.27H48.21V136.17H49.89M50.99,137.74H50.50V138.59H50.91M51.40,139.11H51.03V139.54H51.23M50.50,138.17H49.20V139.60H50.86M48.51,137.44H48.34V140.41H51.25M48.34,138.93H48.16V140.85H51.61M48.21,134.72H46.48V139.89H48.16M40.67,124.76H40.50V137.30H46.48M49.79,142.59H43.44V143.35H43.96M46.63,141.71H41.53V143.71H42.92M41.53,142.71H41.01V144.77H48.61M48.89,146.52H45.83V147.01H48.91M48.42,146.03H44.27V147.42H44.79M39.06,142.80H38.02V145.73H41.41M48.40,149.19H43.86V149.92H48.00M43.33,150.05H42.81V150.96H46.72M47.44,148.64H41.77V151.07H42.29M49.92,148.04H39.20V150.86H41.25M38.02,144.26H37.50V149.45H39.20M48.84,153.77H45.94V154.42H48.60M45.27,156.28H42.98V157.63H45.69M42.98,156.95H42.57V158.51H49.23M43.49,152.78H41.15V158.28H42.16M49.42,152.19H39.26V155.53H41.15M39.26,153.86H38.00V159.39H47.43M49.68,163.62H49.20V164.34H49.49M50.68,162.21H46.48V163.99H46.77M50.68,166.79H48.52V167.28H49.78M47.48,166.16H46.22V167.04H48.52M46.22,166.60H45.93V167.88H50.93M46.19,162.50H44.94V167.24H45.93M50.62,172.02H48.76V172.62H49.74M48.37,170.38H46.60V171.74H47.96M50.62,169.84H45.33V171.06H46.60M50.73,169.41H44.75V171.73H45.04M44.75,170.57H44.46V173.33H50.40M50.77,168.97H44.17V171.95H44.46M50.53,168.48H43.88V170.46H44.17M44.94,164.87H42.98V169.47H43.88M41.76,164.42H41.47V174.00H49.04M49.00,175.09H45.83V177.90H46.18M49.46,178.62H47.77V179.33H48.12M50.89,180.96H49.38V181.40H50.66M48.60,182.44H48.32V183.14H50.33M48.88,180.91H46.19V182.79H48.32M47.77,178.98H45.32V181.54H45.61M45.32,180.26H45.04V183.96H49.44M45.04,182.11H44.75V184.45H50.52M44.75,183.28H44.24V185.42H48.60M45.83,176.49H41.44V184.35H44.24M41.47,169.21H41.15V180.42H41.44M48.45,161.21H36.00V174.82H41.15M50.31,189.25H49.52V189.68H50.98M48.28,187.91H48.01V189.46H49.52M48.01,188.69H47.73V190.17H49.66M47.73,189.43H46.69V190.77H50.51M46.69,190.10H46.41V191.21H51.11M48.55,186.95H45.42V190.65H46.41M45.42,188.80H45.14V191.87H48.01M47.62,194.59H47.35V196.22H50.87M50.58,198.84H50.14V199.27H50.53M48.80,197.53H48.52V199.06H50.14M48.52,198.29H48.08V199.71H50.73M48.08,199.00H45.48V200.20H50.52M50.44,196.88H45.20V199.60H45.48M47.07,195.98H44.93V198.24H45.20M50.32,193.99H44.38V198.90H44.65M50.96,193.17H43.83V194.97H44.10M45.14,190.33H40.27V194.07H43.83M47.35,203.01H46.99V203.85H49.93M49.55,201.67H44.26V203.92H44.62M49.74,204.78H46.37V205.94H47.55M44.26,202.80H43.89V206.22H45.64M50.22,201.24H42.96V204.51H43.89M49.54,207.72H48.14V208.21H49.58M49.30,206.96H46.61V207.97H48.14M50.19,208.65H48.84V209.08H50.66M49.63,211.75H47.39V212.35H50.49M48.71,210.99H46.66V211.71H47.03M46.73,210.13H46.30V211.35H46.66M46.30,210.74H43.24V212.79H50.16M43.24,211.76H42.87V213.23H49.76M48.84,208.87H42.51V212.50H42.87M46.61,207.46H42.14V210.68H42.51M42.14,209.07H40.73V213.66H50.12M42.96,202.87H40.00V212.68H40.37M49.17,214.48H48.04V215.02H49.81M50.69,215.84H49.42V216.28H50.22M48.04,214.75H46.58V215.79H46.96M49.59,217.75H49.11V218.24H50.24M48.80,216.99H48.20V217.99H49.11M49.25,221.35H46.14V222.18H47.63M47.55,224.68H47.10V225.22H50.51M45.07,224.52H44.69V225.92H49.47M44.69,225.22H44.31V226.52H49.45M48.20,223.34H43.93V225.87H44.31M46.14,221.76H41.26V225.73H42.91M41.26,223.74H40.88V227.31H48.24M47.78,220.50H40.50V225.53H40.88M49.99,219.98H39.28V223.02H40.50M47.48,219.10H38.33V221.50H39.28M48.82,229.74H47.95V230.23H50.16M49.58,228.54H43.23V230.50H44.02M49.78,228.05H42.83V229.52H43.23M37.94,219.43H37.56V228.79H42.83M48.20,217.49H37.18V224.11H37.56M48.91,233.55H48.34V234.21H49.56M49.89,236.99H49.50V237.42H50.34M50.59,236.55H47.27V237.48H47.66M46.91,235.15H43.34V236.31H45.34M48.34,233.88H42.57V235.22H42.95M49.56,233.06H42.19V234.55H42.57M42.19,233.81H41.81V238.08H50.55M48.81,232.46H41.12V235.94H41.81M41.12,234.20H40.74V238.65H47.71M40.74,236.43H40.36V239.81H48.44M40.36,238.12H37.99V240.48H50.22M50.19,231.97H37.61V239.30H37.99M37.18,220.80H33.27V233.64H37.23M46.58,215.27H32.48V221.91H32.87M47.58,241.48H47.20V242.00H50.16M45.21,241.98H44.83V243.48H47.59M32.48,218.59H32.10V242.73H44.83M50.08,244.62H45.75V245.48H46.33M48.99,246.31H46.19V246.80H49.23M45.25,244.67H42.86V246.55H46.19M48.60,249.41H48.10V249.85H48.87M48.10,249.63H45.88V250.84H46.38M45.88,250.24H40.89V251.52H45.12M40.22,251.83H39.72V253.12H49.36M48.27,248.81H39.21V252.48H39.72M37.42,250.24H36.91V253.77H50.08M46.49,248.01H35.91V252.01H36.91M35.41,248.57H34.90V254.21H49.95M34.90,251.39H34.40V254.81H48.92M42.36,244.84H33.90V253.10H34.40M49.75,257.48H46.50V258.22H46.96M48.88,256.61H43.71V257.62H44.17M49.82,259.88H46.63V260.31H48.88M43.71,257.11H40.77V259.45H44.77M48.54,256.01H38.77V258.28H40.77M47.19,261.76H45.28V262.79H47.74M44.02,263.12H43.55V263.86H48.30M49.35,261.19H43.09V263.49H43.55M38.77,257.14H38.31V261.60H42.62M48.61,255.46H36.92V263.21H37.38M36.92,259.34H35.00V265.77H46.13" fill="none" stroke="#555" stroke-width="0.45"/>
<path d="M56.10,92.13H51.45V92.34H56.10M51.45,92.24H50.97V92.56H56.10M56.10,91.91H50.56V92.40H50.97M56.10,93.00H51.20V93.22H56.10M56.10,92.78H50.97V93.11H51.20M49.74,92.55H49.57V93.44H56.10M49.57,92.99H49.28V93.65H56.10M56.10,93.87H51.60V94.09H56.10M49.11,93.65H48.67V94.31H56.10M56.10,94.52H51.47V94.74H56.10M56.10,94.96H51.18V95.18H56.10M56.10,96.92H51.33V97.14H56.10M56.10,96.70H51.16V97.03H51.33M56.10,96.49H50.98V96.87H51.16M56.10,96.27H50.72V96.68H50.98M56.10,97.58H51.52V97.80H56.10M56.10,97.36H51.30V97.69H51.52M56.10,96.05H49.34V97.00H49.86M56.10,95.83H49.17V96.52H49.34M56.10,95.61H49.00V96.18H49.17M56.10,95.40H48.82V95.90H49.00M56.10,98.01H51.50V98.23H56.10M56.10,98.88H51.51V99.10H56.10M56.10,98.67H50.76V98.99H51.51M56.10,98.45H50.36V98.83H50.76M56.10,99.32H51.73V99.54H56.10M56.10,99.76H51.71V99.97H56.10M56.10,100.19H51.73V100.41H56.10M56.10,101.28H51.39V101.50H56.10M56.10,101.06H51.21V101.39H51.39M56.10,100.85H50.34V101.23H51.21M56.10,101.72H51.27V101.94H56.10M51.27,101.83H51.09V102.16H56.10M50.16,101.51H49.99V102.37H56.10M56.10,100.63H49.82V101.94H49.99M49.82,101.29H49.32V102.59H56.10M56.10,102.81H51.64V103.03H56.10M51.64,102.92H51.27V103.24H56.10M56.10,103.68H51.43V103.90H56.10M51.43,103.79H51.25V104.12H56.10M51.25,103.95H50.95V104.33H56.10M50.95,104.14H50.77V104.55H56.10M50.77,104.35H50.60V104.77H56.10M56.10,104.99H51.33V105.21H56.10M51.33,105.10H51.16V105.42H56.10M56.10,103.46H49.41V104.91H49.59M49.41,104.19H49.04V105.64H56.10M56.10,105.86H51.36V106.08H56.10M56.10,106.30H51.68V106.52H56.10M56.10,106.73H51.21V106.95H56.10M51.21,106.84H50.74V107.17H56.10M56.10,107.39H51.65V107.60H56.10M51.65,107.50H51.19V107.82H56.10M49.83,107.33H49.66V108.04H56.10M56.10,108.48H51.19V108.69H56.10M51.19,108.59H50.94V108.91H56.10M56.10,109.13H51.28V109.35H56.10M56.10,108.26H50.43V108.99H50.60M50.43,108.63H49.76V109.57H56.10M56.10,109.78H51.34V110.00H56.10M56.10,111.75H51.30V111.97H56.10M56.10,111.53H50.82V111.86H51.30M56.10,111.31H50.65V111.69H50.82M56.10,111.09H50.14V111.50H50.65M56.10,110.88H49.97V111.30H50.14M49.97,111.09H49.60V112.18H56.10M56.10,110.66H49.43V111.63H49.60M49.43,111.15H49.25V112.40H56.10M56.10,110.44H49.08V111.77H49.25M56.10,110.22H48.91V111.11H49.08M56.10,112.62H51.32V112.84H56.10M51.32,112.73H50.98V113.05H56.10M50.98,112.89H50.81V113.27H56.10M56.10,113.71H51.51V113.93H56.10M56.10,113.49H50.75V113.82H51.51M56.10,114.14H51.49V114.36H56.10M50.48,113.95H50.30V114.58H56.10M50.30,114.27H50.13V114.80H56.10M56.10,115.23H51.57V115.45H56.10M56.10,115.02H51.12V115.34H51.57M56.10,115.89H51.61V116.11H56.10M56.10,116.32H51.40V116.54H56.10M51.40,116.43H51.12V116.76H56.10M50.52,116.30H50.35V116.98H56.10M56.10,115.67H49.56V116.64H50.35M56.10,117.85H51.39V118.07H56.10M56.10,117.63H51.22V117.96H51.39M51.22,117.80H50.51V118.29H56.10M56.10,117.41H50.05V118.04H50.51M56.10,117.20H49.87V117.73H50.05M49.87,117.46H49.57V118.50H56.10M56.10,118.94H51.43V119.16H56.10M56.10,118.72H50.70V119.05H51.43M50.70,118.89H50.52V119.38H56.10M49.40,118.56H49.22V119.59H56.10M56.10,119.81H51.65V120.03H56.10M56.10,120.25H51.33V120.47H56.10M56.10,120.90H51.26V121.12H56.10M56.10,121.34H51.29V121.56H56.10M56.10,120.69H50.52V121.23H51.09M50.34,120.66H49.92V121.77H56.10M41.37,109.12H41.19V121.99H56.10M56.10,122.43H51.19V122.65H56.10M56.10,122.21H50.75V122.54H51.19M56.10,123.08H51.65V123.30H56.10M56.10,122.86H50.75V123.19H51.65M56.10,124.39H51.42V124.61H56.10M56.10,124.17H50.89V124.50H51.42M56.10,123.95H50.57V124.34H50.89M56.10,123.74H50.37V124.15H50.57M50.37,123.94H50.20V124.83H56.10M50.20,124.38H49.68V125.04H56.10M56.10,123.52H49.51V124.71H49.68M49.51,124.12H49.33V125.26H56.10M56.10,125.70H51.42V125.92H56.10M51.42,125.81H50.84V126.13H56.10M56.10,125.48H50.67V125.97H50.84M50.67,125.73H50.47V126.35H56.10M50.47,126.04H49.97V126.57H56.10M56.10,127.44H51.24V127.66H56.10M51.24,127.55H50.70V127.88H56.10M56.10,127.22H50.53V127.72H50.70M50.53,127.47H50.13V128.10H56.10M56.10,128.97H51.40V129.19H56.10M56.10,129.41H51.73V129.62H56.10M51.73,129.51H51.20V129.84H56.10M51.20,129.68H51.02V130.06H56.10M56.10,128.75H49.69V129.47H50.02M56.10,128.53H49.52V129.11H49.69M56.10,128.31H49.22V128.82H49.52M49.22,128.57H49.04V130.28H56.10M56.10,130.50H51.30V130.71H56.10M56.10,130.93H51.57V131.15H56.10M51.02,130.82H50.75V131.37H56.10M56.10,131.58H51.35V131.80H56.10M56.10,127.01H47.34V129.38H47.51M56.10,126.79H47.17V128.19H47.34M56.10,132.02H51.16V132.24H56.10M56.10,132.46H51.53V132.67H56.10M56.10,132.89H51.46V133.11H56.10M50.57,132.78H50.40V133.33H56.10M50.40,133.06H49.93V133.55H56.10M56.10,133.76H51.34V133.98H56.10M56.10,134.42H51.26V134.64H56.10M51.26,134.53H50.91V134.85H56.10M56.10,134.20H50.74V134.69H50.91M48.81,133.73H48.56V135.07H56.10M56.10,135.51H51.33V135.73H56.10M51.33,135.62H51.16V135.94H56.10M51.16,135.78H50.98V136.16H56.10M50.98,135.97H50.71V136.38H56.10M56.10,135.29H50.07V136.18H50.71M50.07,135.73H49.89V136.60H56.10M56.10,137.47H51.16V137.69H56.10M51.16,137.58H50.99V137.91H56.10M56.10,138.12H51.28V138.34H56.10M51.28,138.23H51.11V138.56H56.10M51.11,138.40H50.91V138.78H56.10M56.10,139.00H51.40V139.21H56.10M56.10,139.43H51.23V139.65H56.10M51.03,139.32H50.86V139.87H56.10M56.10,137.25H49.03V138.88H49.20M49.03,138.07H48.86V140.09H56.10M56.10,137.03H48.68V139.08H48.86M56.10,136.82H48.51V138.06H48.68M56.10,140.31H51.25V140.52H56.10M56.10,140.74H51.61V140.96H56.10M56.10,141.83H49.64V142.05H56.10M56.10,141.61H47.68V141.94H49.64M47.68,141.78H47.15V142.27H56.10M56.10,141.39H46.63V142.02H47.15M56.10,142.48H49.79V142.70H56.10M56.10,143.79H49.23V144.01H56.10M56.10,143.57H47.28V143.90H49.23M56.10,143.36H46.76V143.74H47.28M56.10,143.14H45.01V143.55H46.76M45.01,143.34H44.48V144.23H56.10M56.10,142.92H43.96V143.79H44.48M43.44,142.97H42.92V144.45H56.10M56.10,144.66H48.61V144.88H56.10M41.01,143.74H39.58V145.10H56.10M56.10,141.18H39.06V144.42H39.58M56.10,145.75H49.56V145.97H56.10M49.56,145.86H48.42V146.19H56.10M56.10,146.41H48.89V146.63H56.10M56.10,147.06H49.73V147.28H56.10M56.10,146.84H48.91V147.17H49.73M45.83,146.76H45.31V147.50H56.10M45.31,147.13H44.79V147.72H56.10M56.10,145.54H41.93V146.73H44.27M56.10,145.32H41.41V146.13H41.93M56.10,147.94H49.92V148.15H56.10M56.10,148.37H49.62V148.59H56.10M49.62,148.48H47.44V148.81H56.10M56.10,149.24H48.92V149.46H56.10M56.10,149.02H48.40V149.35H48.92M56.10,149.90H49.54V150.11H56.10M49.54,150.01H48.71V150.33H56.10M56.10,149.68H48.00V150.17H48.71M43.86,149.56H43.33V150.55H56.10M56.10,151.20H49.80V151.42H56.10M56.10,150.99H48.12V151.31H49.80M56.10,150.77H46.72V151.15H48.12M42.81,150.51H42.29V151.64H56.10M41.77,149.86H41.25V151.86H56.10M56.10,152.08H49.42V152.29H56.10M56.10,153.82H50.12V154.04H56.10M56.10,153.60H48.84V153.93H50.12M56.10,154.47H49.66V154.69H56.10M56.10,154.26H48.60V154.58H49.66M56.10,153.38H45.53V154.09H45.94M45.53,153.74H45.12V154.91H56.10M56.10,153.17H44.71V154.33H45.12M56.10,152.95H44.30V153.75H44.71M56.10,152.73H43.90V153.35H44.30M56.10,152.51H43.49V153.04H43.90M56.10,155.78H49.30V156.00H56.10M49.30,155.89H48.89V156.22H56.10M56.10,155.56H48.49V156.06H48.89M56.10,155.35H47.06V155.81H48.49M56.10,155.13H46.65V155.58H47.06M46.65,155.35H46.24V156.44H56.10M46.24,155.90H45.27V156.65H56.10M56.10,157.75H49.50V157.96H56.10M56.10,157.53H48.35V157.85H49.50M56.10,157.31H47.58V157.69H48.35M56.10,157.09H47.17V157.50H47.58M56.10,156.87H46.09V157.30H47.17M46.09,157.08H45.69V158.18H56.10M56.10,158.40H49.23V158.62H56.10M42.57,157.73H42.16V158.83H56.10M56.10,159.27H50.30V159.49H56.10M50.30,159.38H49.12V159.71H56.10M49.12,159.54H47.84V159.92H56.10M56.10,159.05H47.43V159.73H47.84M56.10,160.36H50.41V160.58H56.10M50.41,160.47H50.12V160.80H56.10M56.10,160.14H49.32V160.63H50.12M49.32,160.39H49.03V161.01H56.10M49.03,160.70H48.74V161.23H56.10M48.74,160.97H48.45V161.45H56.10M56.10,162.10H50.68V162.32H56.10M56.10,163.19H50.55V163.41H56.10M56.10,162.98H50.26V163.30H50.55M50.26,163.14H49.97V163.63H56.10M49.97,163.39H49.68V163.85H56.10M56.10,164.07H50.86V164.28H56.10M50.86,164.18H49.49V164.50H56.10M49.20,163.98H48.92V164.72H56.10M56.10,162.76H48.59V164.35H48.92M56.10,162.54H47.65V163.55H48.59M47.65,163.05H46.77V164.94H56.10M56.10,161.89H46.19V163.10H46.48M56.10,165.59H50.61V165.81H56.10M56.10,165.38H49.43V165.70H50.61M49.43,165.54H49.14V166.03H56.10M56.10,165.16H48.85V165.78H49.14M48.85,165.47H48.37V166.25H56.10M48.37,165.86H47.48V166.46H56.10M56.10,166.68H50.68V166.90H56.10M56.10,167.34H50.28V167.56H56.10M56.10,167.12H49.78V167.45H50.28M56.10,167.77H50.93V167.99H56.10M56.10,168.21H51.09V168.43H56.10M51.09,168.32H50.53V168.64H56.10M56.10,168.86H50.77V169.08H56.10M56.10,169.30H50.73V169.52H56.10M56.10,169.73H50.62V169.95H56.10M56.10,171.04H50.80V171.26H56.10M56.10,170.82H49.38V171.15H50.80M56.10,170.61H48.95V170.99H49.38M56.10,170.39H48.66V170.80H48.95M56.10,170.17H48.37V170.59H48.66M56.10,171.91H50.62V172.13H56.10M56.10,172.35H50.80V172.57H56.10M50.80,172.46H49.74V172.79H56.10M56.10,171.70H48.25V172.32H48.76M56.10,171.48H47.96V172.01H48.25M45.33,170.45H45.04V173.00H56.10M56.10,173.22H50.40V173.44H56.10M56.10,161.67H41.76V167.17H42.98M56.10,173.88H51.04V174.09H56.10M51.04,173.99H49.62V174.31H56.10M49.62,174.15H49.33V174.53H56.10M56.10,173.66H49.04V174.34H49.33M56.10,174.97H51.04V175.19H56.10M51.04,175.08H50.46V175.40H56.10M50.46,175.24H49.64V175.62H56.10M56.10,174.75H49.00V175.43H49.64M56.10,177.15H50.57V177.36H56.10M56.10,176.93H50.28V177.26H50.57M56.10,176.71H49.46V177.09H50.28M56.10,176.49H49.13V176.90H49.46M56.10,176.27H48.84V176.70H49.13M56.10,176.06H48.55V176.49H48.84M48.55,176.27H48.26V177.58H56.10M56.10,175.84H47.54V176.93H48.26M47.54,176.38H47.25V177.80H56.10M47.25,177.09H46.47V178.02H56.10M46.47,177.56H46.18V178.24H56.10M56.10,178.67H50.24V178.89H56.10M56.10,178.45H49.46V178.78H50.24M56.10,179.76H50.52V179.98H56.10M50.52,179.87H50.12V180.20H56.10M56.10,179.54H49.83V180.04H50.12M56.10,179.33H48.41V179.79H49.83M56.10,179.11H48.12V179.56H48.41M56.10,180.85H50.89V181.07H56.10M56.10,181.29H50.66V181.51H56.10M56.10,180.63H48.88V181.18H49.38M56.10,181.94H50.40V182.16H56.10M50.40,182.05H50.00V182.38H56.10M50.00,182.22H49.71V182.60H56.10M56.10,181.72H48.96V182.41H49.71M48.96,182.07H48.60V182.81H56.10M56.10,183.03H50.33V183.25H56.10M46.19,181.85H45.90V183.47H56.10M56.10,180.42H45.61V182.66H45.90M56.10,183.69H50.84V183.90H56.10M50.84,183.80H49.44V184.12H56.10M56.10,184.34H50.52V184.56H56.10M56.10,185.43H51.12V185.65H56.10M56.10,185.21H49.63V185.54H51.12M56.10,185.00H49.34V185.38H49.63M56.10,184.78H48.88V185.19H49.34M48.88,184.98H48.60V185.87H56.10M56.10,186.52H51.18V186.74H56.10M56.10,186.30H49.65V186.63H51.18M49.65,186.47H49.37V186.96H56.10M49.37,186.71H49.10V187.17H56.10M56.10,186.08H48.82V186.94H49.10M48.82,186.51H48.55V187.39H56.10M56.10,188.48H50.90V188.70H56.10M56.10,188.26H50.56V188.59H50.90M56.10,188.05H49.76V188.43H50.56M49.76,188.24H48.83V188.92H56.10M56.10,187.83H48.56V188.58H48.83M56.10,187.61H48.28V188.20H48.56M56.10,189.14H50.31V189.35H56.10M56.10,189.57H50.98V189.79H56.10M56.10,190.23H50.69V190.44H56.10M56.10,190.01H49.66V190.34H50.69M56.10,190.66H50.51V190.88H56.10M56.10,191.10H51.11V191.32H56.10M56.10,191.97H50.86V192.19H56.10M50.86,192.08H50.40V192.41H56.10M50.40,192.24H49.92V192.62H56.10M49.92,192.43H48.56V192.84H56.10M56.10,191.75H48.29V192.64H48.56M56.10,191.53H48.01V192.20H48.29M56.10,193.06H50.96V193.28H56.10M56.10,193.71H51.16V193.93H56.10M51.16,193.82H50.32V194.15H56.10M56.10,195.68H50.45V195.89H56.10M56.10,195.46H49.72V195.79H50.45M56.10,195.24H49.45V195.62H49.72M56.10,195.02H49.17V195.43H49.45M56.10,194.80H48.90V195.23H49.17M56.10,194.59H48.62V195.02H48.90M56.10,194.37H47.62V194.80H48.62M56.10,196.11H50.87V196.33H56.10M47.35,195.40H47.07V196.55H56.10M56.10,196.77H50.44V196.98H56.10M56.10,197.64H50.97V197.86H56.10M50.97,197.75H50.69V198.07H56.10M50.69,197.91H50.39V198.29H56.10M50.39,198.10H49.35V198.51H56.10M56.10,197.42H49.07V198.31H49.35M56.10,197.20H48.80V197.86H49.07M56.10,198.73H50.58V198.95H56.10M56.10,199.16H50.53V199.38H56.10M56.10,199.60H50.73V199.82H56.10M56.10,200.25H51.18V200.47H56.10M56.10,200.04H50.52V200.36H51.18M44.93,197.11H44.65V200.69H56.10M56.10,193.50H44.10V196.44H44.38M40.27,192.20H40.00V200.91H56.10M56.10,201.13H50.22V201.34H56.10M56.10,201.56H49.55V201.78H56.10M56.10,202.65H50.07V202.87H56.10M50.07,202.76H49.70V203.09H56.10M49.70,202.93H48.45V203.31H56.10M56.10,202.44H48.08V203.12H48.45M56.10,202.22H47.72V202.78H48.08M47.72,202.50H47.35V203.52H56.10M56.10,203.74H49.93V203.96H56.10M56.10,202.00H45.35V203.43H46.99M45.35,202.72H44.99V204.18H56.10M44.99,203.45H44.62V204.40H56.10M56.10,204.83H50.11V205.05H56.10M56.10,204.61H49.74V204.94H50.11M56.10,205.27H50.37V205.49H56.10M50.37,205.38H49.55V205.70H56.10M49.55,205.54H49.19V205.92H56.10M49.19,205.73H47.55V206.14H56.10M46.37,205.36H46.01V206.36H56.10M46.01,205.86H45.64V206.58H56.10M56.10,207.01H50.09V207.23H56.10M56.10,206.79H49.30V207.12H50.09M56.10,207.45H50.16V207.67H56.10M50.16,207.56H49.54V207.88H56.10M56.10,208.10H49.58V208.32H56.10M56.10,208.54H50.19V208.76H56.10M56.10,208.97H50.66V209.19H56.10M56.10,209.63H50.05V209.85H56.10M50.05,209.74H48.73V210.06H56.10M48.73,209.90H48.36V210.28H56.10M56.10,209.41H48.00V210.09H48.36M48.00,209.75H46.73V210.50H56.10M56.10,210.72H49.81V210.94H56.10M49.81,210.83H48.71V211.15H56.10M56.10,211.81H50.00V212.03H56.10M56.10,211.59H49.63V211.92H50.00M56.10,212.24H50.49V212.46H56.10M56.10,211.37H47.03V212.05H47.39M56.10,212.68H50.16V212.90H56.10M56.10,213.12H49.76V213.33H56.10M56.10,213.55H50.12V213.77H56.10M40.73,211.37H40.37V213.99H56.10M56.10,214.21H50.53V214.42H56.10M50.53,214.32H49.17V214.64H56.10M56.10,215.08H50.19V215.30H56.10M56.10,214.86H49.81V215.19H50.19M56.10,215.73H50.69V215.95H56.10M56.10,216.17H50.22V216.39H56.10M56.10,215.51H46.96V216.06H49.42M56.10,217.04H50.55V217.26H56.10M56.10,216.82H48.80V217.15H50.55M56.10,217.48H50.41V217.69H56.10M50.41,217.59H49.59V217.91H56.10M56.10,218.13H50.24V218.35H56.10M56.10,219.22H49.49V219.44H56.10M56.10,219.00H48.45V219.33H49.49M48.45,219.17H48.06V219.66H56.10M56.10,218.78H47.48V219.41H48.06M56.10,219.88H49.99V220.09H56.10M56.10,220.75H49.98V220.96H56.10M56.10,220.53H49.21V220.86H49.98M56.10,220.31H47.78V220.69H49.21M56.10,221.40H50.01V221.62H56.10M56.10,221.18H49.25V221.51H50.01M56.10,222.06H50.45V222.27H56.10M50.45,222.16H49.93V222.49H56.10M49.93,222.33H48.01V222.71H56.10M56.10,221.84H47.63V222.52H48.01M56.10,223.14H49.60V223.36H56.10M56.10,222.93H48.58V223.25H49.60M48.58,223.09H48.20V223.58H56.10M56.10,224.02H49.67V224.23H56.10M49.67,224.13H49.20V224.45H56.10M49.20,224.29H47.93V224.67H56.10M47.93,224.48H47.55V224.89H56.10M56.10,225.11H50.51V225.32H56.10M47.10,224.95H45.46V225.54H56.10M56.10,223.80H45.07V225.25H45.46M56.10,225.98H50.47V226.20H56.10M56.10,225.76H49.47V226.09H50.47M56.10,226.41H49.45V226.63H56.10M43.93,224.60H42.91V226.85H56.10M56.10,227.29H50.60V227.50H56.10M50.60,227.40H48.96V227.72H56.10M56.10,227.07H48.24V227.56H48.96M56.10,218.57H37.94V220.30H38.33M56.10,227.94H49.78V228.16H56.10M56.10,228.59H49.96V228.81H56.10M56.10,228.38H49.58V228.70H49.96M56.10,229.47H50.65V229.69H56.10M50.65,229.58H48.82V229.90H56.10M56.10,230.12H50.16V230.34H56.10M47.95,229.98H46.61V230.56H56.10M46.61,230.27H46.23V230.77H56.10M46.23,230.52H45.85V230.99H56.10M45.85,230.76H45.47V231.21H56.10M56.10,229.25H45.08V230.98H45.47M56.10,229.03H44.41V230.12H45.08M44.41,229.57H44.02V231.43H56.10M56.10,231.86H50.19V232.08H56.10M56.10,232.52H50.56V232.74H56.10M56.10,232.30H48.81V232.63H50.56M56.10,232.95H49.56V233.17H56.10M56.10,233.61H49.77V233.83H56.10M56.10,233.39H48.91V233.72H49.77M56.10,234.26H49.94V234.48H56.10M56.10,234.04H49.56V234.37H49.94M56.10,235.35H49.42V235.57H56.10M49.42,235.46H48.54V235.79H56.10M56.10,235.13H47.68V235.63H48.54M56.10,234.92H46.91V235.38H47.68M56.10,236.44H50.59V236.66H56.10M56.10,236.88H49.89V237.10H56.10M56.10,237.31H50.34V237.53H56.10M49.50,237.21H47.66V237.75H56.10M56.10,236.22H46.89V237.02H47.27M56.10,236.01H45.34V236.62H46.89M56.10,234.70H42.95V235.73H43.34M56.10,237.97H50.55V238.19H56.10M56.10,238.62H50.22V238.84H56.10M50.22,238.73H49.84V239.06H56.10M56.10,238.40H47.71V238.90H49.84M56.10,239.71H50.24V239.93H56.10M56.10,239.50H49.20V239.82H50.24M56.10,239.28H48.82V239.66H49.20M48.82,239.47H48.44V240.15H56.10M56.10,240.37H50.22V240.58H56.10M56.10,231.65H37.23V235.64H37.61M56.10,216.60H32.87V227.22H33.27M56.10,241.02H49.43V241.24H56.10M49.43,241.13H49.05V241.46H56.10M49.05,241.29H47.58V241.67H56.10M56.10,241.89H50.16V242.11H56.10M47.20,241.74H46.19V242.33H56.10M56.10,240.80H45.81V242.04H46.19M45.81,241.42H45.21V242.55H56.10M56.10,242.98H50.57V243.20H56.10M50.57,243.09H49.80V243.42H56.10M49.80,243.26H48.38V243.64H56.10M56.10,242.76H47.97V243.45H48.38M47.97,243.11H47.59V243.85H56.10M56.10,244.51H50.08V244.73H56.10M56.10,245.38H48.95V245.60H56.10M56.10,245.16H48.24V245.49H48.95M56.10,244.94H47.73V245.33H48.24M47.73,245.14H46.33V245.82H56.10M56.10,244.29H45.25V245.05H45.75M56.10,246.03H49.49V246.25H56.10M49.49,246.14H48.99V246.47H56.10M56.10,246.69H49.23V246.91H56.10M56.10,244.07H42.36V245.61H42.86M56.10,247.34H49.09V247.56H56.10M49.09,247.45H48.59V247.78H56.10M48.59,247.62H47.24V248.00H56.10M47.24,247.81H46.49V248.21H56.10M56.10,248.87H49.82V249.09H56.10M56.10,248.65H48.27V248.98H49.82M56.10,249.30H48.60V249.52H56.10M56.10,249.74H48.87V249.96H56.10M56.10,250.18H49.09V250.39H56.10M49.09,250.29H48.59V250.61H56.10M48.59,250.45H47.03V250.83H56.10M47.03,250.64H46.38V251.05H56.10M56.10,251.92H49.02V252.14H56.10M49.02,252.03H48.52V252.36H56.10M48.52,252.19H47.64V252.57H56.10M56.10,251.70H47.14V252.38H47.64M56.10,251.48H46.18V252.04H47.14M56.10,251.27H45.12V251.76H46.18M40.89,250.88H40.22V252.79H56.10M56.10,253.01H49.36V253.23H56.10M39.21,250.65H37.92V253.45H56.10M56.10,248.43H37.42V252.05H37.92M56.10,253.66H50.08V253.88H56.10M56.10,247.12H35.41V250.01H35.91M56.10,254.10H49.95V254.32H56.10M56.10,254.54H49.93V254.75H56.10M49.93,254.65H48.92V254.97H56.10M56.10,255.19H50.20V255.41H56.10M50.20,255.30H48.61V255.63H56.10M56.10,256.06H49.00V256.28H56.10M56.10,255.84H48.54V256.17H49.00M56.10,256.50H48.88V256.72H56.10M56.10,257.37H49.75V257.59H56.10M56.10,258.02H48.75V258.24H56.10M56.10,257.81H47.43V258.13H48.75M47.43,257.97H46.96V258.46H56.10M46.50,257.85H46.01V258.68H56.10M56.10,257.15H45.54V258.26H46.01M45.54,257.71H44.64V258.90H56.10M56.10,256.94H44.17V258.30H44.64M56.10,259.77H49.82V259.99H56.10M56.10,260.20H48.88V260.42H56.10M56.10,259.55H46.17V260.10H46.63M46.17,259.82H45.70V260.64H56.10M56.10,259.33H45.24V260.23H45.70M56.10,259.11H44.77V259.78H45.24M56.10,261.08H49.35V261.29H56.10M56.10,261.73H49.39V261.95H56.10M49.39,261.84H48.92V262.17H56.10M56.10,261.51H47.19V262.00H48.92M56.10,262.60H49.82V262.82H56.10M56.10,262.38H48.20V262.71H49.82M48.20,262.55H47.74V263.04H56.10M45.28,262.28H44.81V263.26H56.10M44.81,262.77H44.02V263.47H56.10M56.10,263.91H49.39V264.13H56.10M56.10,263.69H48.30V264.02H49.39M56.10,260.86H42.62V262.34H43.09M38.31,259.37H37.84V264.35H56.10M37.84,261.86H37.38V264.56H56.10M56.10,265.22H50.27V265.44H56.10M50.27,265.33H49.19V265.65H56.10M56.10,265.00H48.15V265.49H49.19M56.10,264.78H47.06V265.25H48.15M47.06,265.01H46.60V265.87H56.10M46.60,265.44H46.13V266.09H56.10" fill="none" stroke="#383838" stroke-width="0.45"/>
<rect x="52.8" y="92.1" width="3.3000000000000043" height="173.79999999999998" fill="#2f3134"/>
<path d="M40,90 L56.6,90 L56.6,91.9 C54.5,92.1 52.6,92.6 51.2,93.6 C49.8,94.6 48.6,96 47.8,97.8 L40,97.8 Z" fill="#fff"/>
<text transform="translate(67.21,285.2) rotate(-90)" font-size="7.5" fill="#1a1a1a" stroke="#1a1a1a" stroke-width="0.2">3327</text>
<text transform="translate(78.84,285.2) rotate(-90)" font-size="7.5" fill="#1a1a1a" stroke="#1a1a1a" stroke-width="0.2">2218</text>
<text transform="translate(90.46,285.2) rotate(-90)" font-size="7.5" fill="#1a1a1a" stroke="#1a1a1a" stroke-width="0.2">1316</text>
<text transform="translate(102.09,285.2) rotate(-90)" font-size="7.5" fill="#1a1a1a" stroke="#1a1a1a" stroke-width="0.2">2545</text>
<text transform="translate(113.71,285.2) rotate(-90)" font-size="7.5" fill="#1a1a1a" stroke="#1a1a1a" stroke-width="0.2">2273</text>
<text transform="translate(125.34,285.2) rotate(-90)" font-size="7.5" fill="#1a1a1a" stroke="#1a1a1a" stroke-width="0.2">2242</text>
<text transform="translate(136.96,285.2) rotate(-90)" font-size="7.5" fill="#1a1a1a" stroke="#1a1a1a" stroke-width="0.2">2192</text>
<text transform="translate(148.59,285.2) rotate(-90)" font-size="7.5" fill="#1a1a1a" stroke="#1a1a1a" stroke-width="0.2">2753</text>
<text transform="translate(160.21,285.2) rotate(-90)" font-size="7.5" fill="#1a1a1a" stroke="#1a1a1a" stroke-width="0.2">2686</text>
<text transform="translate(171.84,285.2) rotate(-90)" font-size="7.5" fill="#1a1a1a" stroke="#1a1a1a" stroke-width="0.2">3483</text>
<text transform="translate(183.46,285.2) rotate(-90)" font-size="7.5" fill="#1a1a1a" stroke="#1a1a1a" stroke-width="0.2">3491</text>
<text transform="translate(195.09,285.2) rotate(-90)" font-size="7.5" fill="#1a1a1a" stroke="#1a1a1a" stroke-width="0.2">2668</text>
<text transform="translate(206.71,285.2) rotate(-90)" font-size="7.5" fill="#1a1a1a" stroke="#1a1a1a" stroke-width="0.2">7076</text>
<text transform="translate(218.34,285.2) rotate(-90)" font-size="7.5" fill="#1a1a1a" stroke="#1a1a1a" stroke-width="0.2">3314</text>
<text transform="translate(229.96,285.2) rotate(-90)" font-size="7.5" fill="#1a1a1a" stroke="#1a1a1a" stroke-width="0.2">2238</text>
<text transform="translate(241.59,285.2) rotate(-90)" font-size="7.5" fill="#1a1a1a" stroke="#1a1a1a" stroke-width="0.2">6947</text>
<path d="M57.4,287.6 C57.4,291.6 59.6,293.4 63.6,293.4 L146.0,293.4 C150.0,293.4 152.2,291.6 152.2,287.6" fill="none" stroke="#000" stroke-width="1.6"/>
<path d="M153.8,287.6 C153.8,291.6 156.0,293.4 160.0,293.4 L237.6,293.4 C241.6,293.4 243.8,291.6 243.8,287.6" fill="none" stroke="#000" stroke-width="1.6"/>
<text x="85.3" y="306" font-size="8.4" font-style="italic" fill="#1a1a1a" stroke="#1a1a1a" stroke-width="0.2">CEBPA<tspan font-size="5.8" dx="0.8" dy="-2.3">mut</tspan></text>
<text x="180.3" y="306" font-size="8.4" font-style="italic" fill="#1a1a1a" stroke="#1a1a1a" stroke-width="0.2">CEBPA<tspan font-size="5.8" dx="0.8" dy="-2.3">sil</tspan></text>
<line x1="297.20" y1="70.60" x2="520.00" y2="70.60" stroke="#999" stroke-width="0.9"/>
<line x1="297.20" y1="70.60" x2="297.20" y2="272.20" stroke="#8c8c8c" stroke-width="0.9"/>
<line x1="297.20" y1="272.20" x2="518.50" y2="272.20" stroke="#8c8c8c" stroke-width="0.9"/>
<line x1="294.50" y1="264.40" x2="297.20" y2="264.40" stroke="#8c8c8c" stroke-width="0.8"/>
<text x="291.5" y="267.40" font-size="8.3" text-anchor="end" fill="#222" stroke="#222" stroke-width="0.2">0.0</text>
<line x1="294.50" y1="235.56" x2="297.20" y2="235.56" stroke="#8c8c8c" stroke-width="0.8"/>
<text x="291.5" y="238.56" font-size="8.3" text-anchor="end" fill="#222" stroke="#222" stroke-width="0.2">0.2</text>
<line x1="294.50" y1="206.72" x2="297.20" y2="206.72" stroke="#8c8c8c" stroke-width="0.8"/>
<text x="291.5" y="209.72" font-size="8.3" text-anchor="end" fill="#222" stroke="#222" stroke-width="0.2">0.4</text>
<line x1="294.50" y1="177.88" x2="297.20" y2="177.88" stroke="#8c8c8c" stroke-width="0.8"/>
<text x="291.5" y="180.88" font-size="8.3" text-anchor="end" fill="#222" stroke="#222" stroke-width="0.2">0.6</text>
<line x1="294.50" y1="149.04" x2="297.20" y2="149.04" stroke="#8c8c8c" stroke-width="0.8"/>
<text x="291.5" y="152.04" font-size="8.3" text-anchor="end" fill="#222" stroke="#222" stroke-width="0.2">0.8</text>
<line x1="294.50" y1="120.20" x2="297.20" y2="120.20" stroke="#8c8c8c" stroke-width="0.8"/>
<text x="291.5" y="123.20" font-size="8.3" text-anchor="end" fill="#222" stroke="#222" stroke-width="0.2">1.0</text>
<line x1="294.50" y1="91.36" x2="297.20" y2="91.36" stroke="#8c8c8c" stroke-width="0.8"/>
<text x="291.5" y="94.36" font-size="8.3" text-anchor="end" fill="#222" stroke="#222" stroke-width="0.2">1.2</text>
<line x1="298.00" y1="272.20" x2="298.00" y2="274.60" stroke="#8c8c8c" stroke-width="0.8"/>
<text x="296.50" y="283.4" font-size="8.5" text-anchor="middle" fill="#222" stroke="#222" stroke-width="0.2">-1.0</text>
<line x1="349.00" y1="272.20" x2="349.00" y2="274.60" stroke="#8c8c8c" stroke-width="0.8"/>
<text x="347.50" y="283.4" font-size="8.5" text-anchor="middle" fill="#222" stroke="#222" stroke-width="0.2">-0.5</text>
<line x1="400.00" y1="272.20" x2="400.00" y2="274.60" stroke="#8c8c8c" stroke-width="0.8"/>
<text x="400.00" y="283.4" font-size="8.5" text-anchor="middle" fill="#222" stroke="#222" stroke-width="0.2">0</text>
<line x1="451.00" y1="272.20" x2="451.00" y2="274.60" stroke="#8c8c8c" stroke-width="0.8"/>
<text x="451.00" y="283.4" font-size="8.5" text-anchor="middle" fill="#222" stroke="#222" stroke-width="0.2">0.5</text>
<line x1="502.00" y1="272.20" x2="502.00" y2="274.60" stroke="#8c8c8c" stroke-width="0.8"/>
<text x="502.00" y="283.4" font-size="8.5" text-anchor="middle" fill="#222" stroke="#222" stroke-width="0.2">1.0</text>
<text x="401.2" y="296.3" font-size="8.8" text-anchor="middle" fill="#222" stroke="#222" stroke-width="0.2">Correlation (r)</text>
<text transform="translate(274.2,175.1) rotate(-90)" font-size="8.3" text-anchor="middle" fill="#4a4a4a" font-weight="normal">Density</text>
<path d="M321.20,260.19 L321.95,259.69 L322.70,259.19 L323.45,258.72 L324.20,258.31 L324.95,257.95 L325.70,257.64 L326.45,257.35 L327.20,257.08 L327.95,256.82 L328.70,256.56 L329.45,256.28 L330.20,255.99 L330.95,255.68 L331.70,255.35 L332.45,255.01 L333.20,254.64 L333.95,254.27 L334.70,253.88 L335.45,253.48 L336.20,253.07 L336.95,252.62 L337.70,252.13 L338.45,251.60 L339.20,250.99 L339.95,250.32 L340.70,249.57 L341.45,248.74 L342.20,247.82 L342.95,246.78 L343.70,245.61 L344.45,244.30 L345.20,242.88 L345.95,241.38 L346.70,239.81 L347.45,238.20 L348.20,236.56 L348.95,234.87 L349.70,233.18 L350.45,231.48 L351.20,229.80 L351.95,228.15 L352.70,226.50 L353.45,224.83 L354.20,223.14 L354.95,221.40 L355.70,219.65 L356.45,217.93 L357.20,216.29 L357.95,214.77 L358.70,213.36 L359.45,212.04 L360.20,210.79 L360.95,209.56 L361.70,208.33 L362.45,207.10 L363.20,205.86 L363.95,204.60 L364.70,203.35 L365.45,202.09 L366.20,200.84 L366.95,199.58 L367.70,198.34 L368.45,197.10 L369.20,195.86 L369.95,194.63 L370.70,193.40 L371.45,192.16 L372.20,190.90 L372.95,189.61 L373.70,188.30 L374.45,186.96 L375.20,185.57 L375.95,184.11 L376.70,182.52 L377.45,180.76 L378.20,178.80 L378.95,176.69 L379.70,174.51 L380.45,172.37 L381.20,170.31 L381.95,168.36 L382.70,166.51 L383.45,164.75 L384.20,163.07 L384.95,161.45 L385.70,159.84 L386.45,158.22 L387.20,156.55 L387.95,154.83 L388.70,153.10 L389.45,151.42 L390.20,149.85 L390.95,148.41 L391.70,147.10 L392.45,145.88 L393.20,144.72 L393.95,143.57 L394.70,142.41 L395.45,141.22 L396.20,139.98 L396.95,138.69 L397.70,137.27 L398.45,135.63 L399.20,133.69 L399.95,131.43 L400.70,128.98 L401.45,126.56 L402.20,124.33 L402.95,122.37 L403.70,120.63 L404.45,119.05 L405.20,117.56 L405.95,116.13 L406.70,114.74 L407.45,113.38 L408.20,112.05 L408.95,110.76 L409.70,109.49 L410.45,108.23 L411.20,106.96 L411.95,105.68 L412.70,104.37 L413.45,103.04 L414.20,101.68 L414.95,100.33 L415.70,98.99 L416.45,97.68 L417.20,96.39 L417.95,95.13 L418.70,93.91 L419.45,92.74 L420.20,91.64 L420.95,90.60 L421.70,89.62 L422.45,88.70 L423.20,87.82 L423.95,86.97 L424.70,86.15 L425.45,85.35 L426.20,84.57 L426.95,83.80 L427.70,83.05 L428.45,82.31 L429.20,81.59 L429.95,80.90 L430.70,80.22 L431.45,79.57 L432.20,78.96 L432.95,78.47 L433.70,78.18 L434.45,78.17 L435.20,78.48 L435.95,79.08 L436.70,79.93 L437.45,81.01 L438.20,82.29 L438.95,83.76 L439.70,85.43 L440.45,87.27 L441.20,89.31 L441.95,91.59 L442.70,94.21 L443.45,97.30 L444.20,100.91 L444.95,104.86 L445.70,108.80 L446.45,112.51 L447.20,116.02 L447.95,119.59 L448.70,123.42 L449.45,127.62 L450.20,132.13 L450.95,136.82 L451.70,141.55 L452.45,146.21 L453.20,150.74 L453.95,155.21 L454.70,159.72 L455.45,164.39 L456.20,169.25 L456.95,174.24 L457.70,179.25 L458.45,184.21 L459.20,189.03 L459.95,193.67 L460.70,198.08 L461.45,202.26 L462.20,206.20 L462.95,209.96 L463.70,213.61 L464.45,217.21 L465.20,220.76 L465.95,224.19 L466.70,227.42 L467.45,230.41 L468.20,233.16 L468.95,235.70 L469.70,238.03 L470.45,240.14 L471.20,242.02 L471.95,243.70 L472.70,245.19 L473.45,246.53 L474.20,247.75 L474.95,248.86 L475.70,249.88 L476.45,250.82 L477.20,251.69 L477.95,252.49 L478.70,253.23 L479.45,253.90 L480.20,254.50 L480.95,255.03 L481.70,255.50 L482.45,255.93 L483.20,256.32 L483.95,256.67 L484.70,257.00 L485.45,257.31 L486.20,257.59 L486.95,257.85 L487.70,258.10 L488.45,258.32 L489.20,258.54 L489.95,258.74 L490.70,258.94 L491.45,259.14 L492.20,259.34 L492.95,259.56 L493.70,259.79 L494.45,260.04 L495.20,260.30 L495.95,260.58 L496.70,260.87 L497.45,261.16 L498.20,261.44 L498.95,261.70 L499.70,261.96 L500.45,262.20 L501.20,262.43 L501.95,262.65 L502.70,262.86 L503.45,263.05 L504.20,263.23 L504.95,263.38 L505.70,263.52 L506.45,263.64 L507.20,263.75 L507.95,263.86 L508.70,263.96 L509.45,264.05 L510.20,264.13 L510.95,264.21 L511.70,264.27 L512.45,264.32 L513.20,264.36 L513.95,264.38" fill="none" stroke="#c0383a" stroke-width="1.1"/>
<path d="M305.70,264.48 L306.45,264.46 L307.20,264.43 L307.95,264.39 L308.70,264.33 L309.45,264.26 L310.20,264.18 L310.95,264.09 L311.70,263.98 L312.45,263.86 L313.20,263.71 L313.95,263.54 L314.70,263.36 L315.45,263.15 L316.20,262.91 L316.95,262.64 L317.70,262.32 L318.45,261.97 L319.20,261.57 L319.95,261.11 L320.70,260.58 L321.45,259.99 L322.20,259.32 L322.95,258.60 L323.70,257.82 L324.45,256.99 L325.20,256.13 L325.95,255.25 L326.70,254.39 L327.45,253.53 L328.20,252.69 L328.95,251.83 L329.70,250.94 L330.45,249.99 L331.20,248.99 L331.95,247.95 L332.70,246.94 L333.45,245.98 L334.20,245.11 L334.95,244.33 L335.70,243.60 L336.45,242.90 L337.20,242.22 L337.95,241.52 L338.70,240.82 L339.45,240.11 L340.20,239.39 L340.95,238.65 L341.70,237.89 L342.45,237.08 L343.20,236.22 L343.95,235.30 L344.70,234.30 L345.45,233.23 L346.20,232.08 L346.95,230.87 L347.70,229.60 L348.45,228.27 L349.20,226.87 L349.95,225.41 L350.70,223.89 L351.45,222.35 L352.20,220.80 L352.95,219.28 L353.70,217.78 L354.45,216.29 L355.20,214.80 L355.95,213.27 L356.70,211.67 L357.45,209.99 L358.20,208.22 L358.95,206.35 L359.70,204.38 L360.45,202.33 L361.20,200.18 L361.95,197.95 L362.70,195.60 L363.45,193.10 L364.20,190.42 L364.95,187.54 L365.70,184.45 L366.45,181.22 L367.20,177.89 L367.95,174.52 L368.70,171.16 L369.45,167.79 L370.20,164.42 L370.95,161.03 L371.70,157.57 L372.45,154.02 L373.20,150.36 L373.95,146.58 L374.70,142.72 L375.45,138.85 L376.20,135.11 L376.95,131.59 L377.70,128.32 L378.45,125.30 L379.20,122.49 L379.95,119.87 L380.70,117.42 L381.45,115.12 L382.20,112.96 L382.95,110.92 L383.70,109.01 L384.45,107.22 L385.20,105.53 L385.95,103.93 L386.70,102.41 L387.45,100.96 L388.20,99.57 L388.95,98.24 L389.70,96.97 L390.45,95.75 L391.20,94.62 L391.95,93.56 L392.70,92.59 L393.45,91.70 L394.20,90.87 L394.95,90.09 L395.70,89.35 L396.45,88.63 L397.20,87.92 L397.95,87.21 L398.70,86.47 L399.45,85.71 L400.20,84.95 L400.95,84.23 L401.70,83.61 L402.45,83.14 L403.20,82.83 L403.95,82.70 L404.70,82.70 L405.45,82.80 L406.20,82.99 L406.95,83.25 L407.70,83.59 L408.45,84.01 L409.20,84.48 L409.95,84.97 L410.70,85.46 L411.45,85.94 L412.20,86.41 L412.95,86.88 L413.70,87.33 L414.45,87.78 L415.20,88.20 L415.95,88.61 L416.70,89.01 L417.45,89.41 L418.20,89.82 L418.95,90.26 L419.70,90.75 L420.45,91.30 L421.20,91.92 L421.95,92.65 L422.70,93.49 L423.45,94.49 L424.20,95.65 L424.95,97.00 L425.70,98.49 L426.45,100.07 L427.20,101.70 L427.95,103.36 L428.70,105.08 L429.45,106.86 L430.20,108.75 L430.95,110.75 L431.70,112.94 L432.45,115.40 L433.20,118.27 L433.95,121.67 L434.70,125.64 L435.45,130.12 L436.20,134.92 L436.95,139.87 L437.70,144.77 L438.45,149.50 L439.20,153.98 L439.95,158.21 L440.70,162.21 L441.45,166.09 L442.20,169.96 L442.95,173.96 L443.70,178.12 L444.45,182.37 L445.20,186.54 L445.95,190.45 L446.70,193.96 L447.45,197.03 L448.20,199.72 L448.95,202.14 L449.70,204.40 L450.45,206.55 L451.20,208.62 L451.95,210.63 L452.70,212.62 L453.45,214.61 L454.20,216.65 L454.95,218.77 L455.70,220.93 L456.45,223.07 L457.20,225.12 L457.95,227.01 L458.70,228.77 L459.45,230.45 L460.20,232.11 L460.95,233.80 L461.70,235.55 L462.45,237.35 L463.20,239.15 L463.95,240.91 L464.70,242.59 L465.45,244.17 L466.20,245.67 L466.95,247.09 L467.70,248.46 L468.45,249.77 L469.20,251.04 L469.95,252.28 L470.70,253.46 L471.45,254.59 L472.20,255.63 L472.95,256.57 L473.70,257.42 L474.45,258.19 L475.20,258.88 L475.95,259.51 L476.70,260.07 L477.45,260.55 L478.20,260.97 L478.95,261.32 L479.70,261.63 L480.45,261.90 L481.20,262.14 L481.95,262.36 L482.70,262.55 L483.45,262.72 L484.20,262.86 L484.95,262.98 L485.70,263.08 L486.45,263.16 L487.20,263.23 L487.95,263.30 L488.70,263.35 L489.45,263.41 L490.20,263.46 L490.95,263.50 L491.70,263.55 L492.45,263.60 L493.20,263.65 L493.95,263.71 L494.70,263.76 L495.45,263.82 L496.20,263.88 L496.95,263.94 L497.70,263.99 L498.45,264.05 L499.20,264.10 L499.95,264.15 L500.70,264.20 L501.45,264.25 L502.20,264.30 L502.95,264.35 L503.70,264.39 L504.45,264.44 L505.20,264.48 L505.95,264.52 L506.70,264.55" fill="none" stroke="#1a1a1a" stroke-width="1.2"/>
</svg></body></html>
